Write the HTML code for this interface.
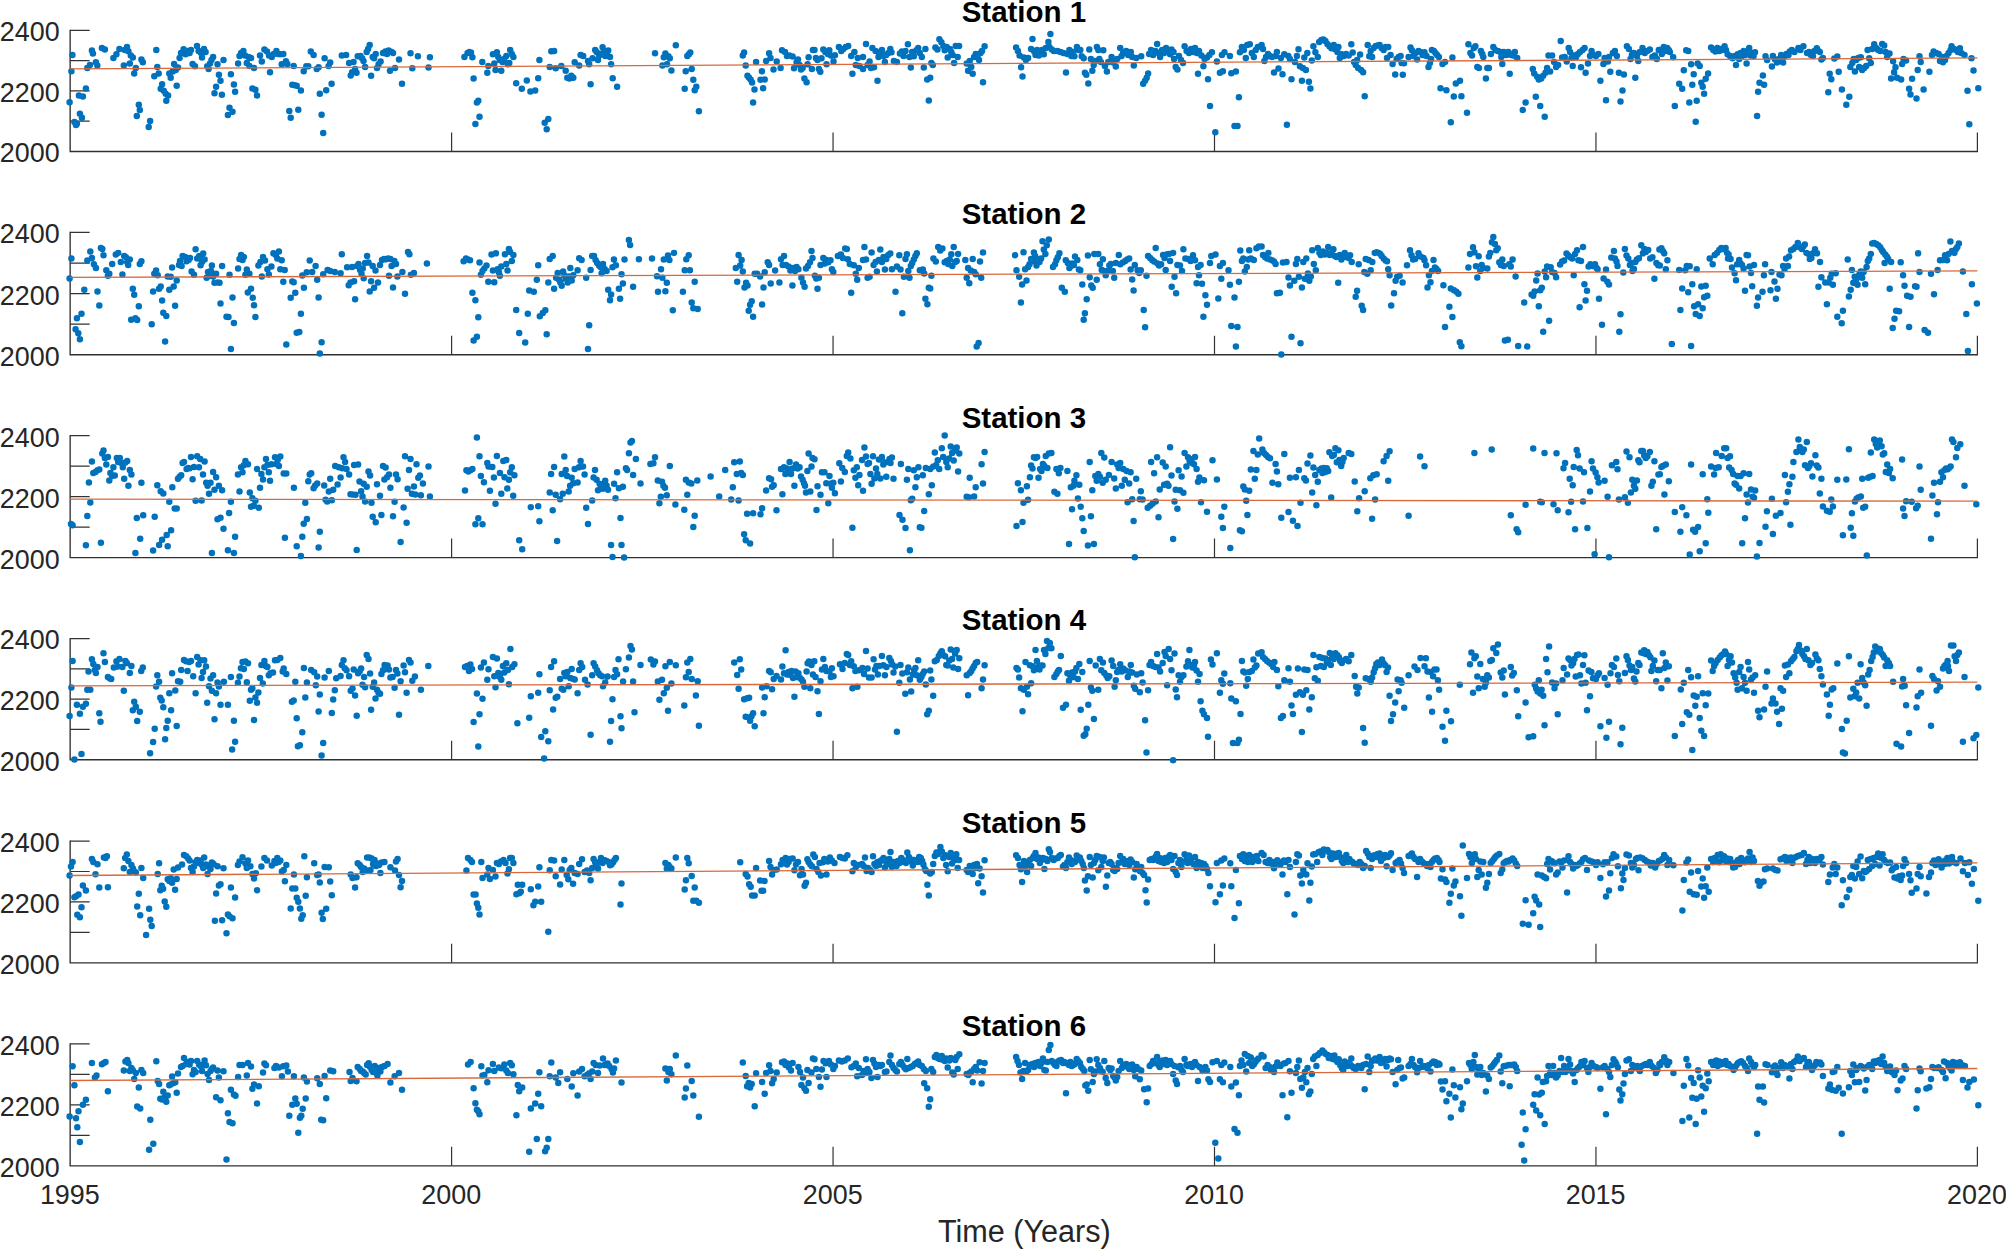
<!DOCTYPE html>
<html><head><meta charset="utf-8"><title>Stations</title>
<style>
html,body{margin:0;padding:0;background:#fff;}
body{width:2006px;height:1249px;overflow:hidden;}
svg{display:block;}
text{font-family:"Liberation Sans",sans-serif;fill:#262626;}
.tk{font-size:26.9px;}
.ti{font-size:29.5px;font-weight:bold;fill:#000;}
.xl{font-size:30.6px;}
.ax{stroke:#303030;stroke-width:1.35;fill:none;}
.tc{stroke:#333;stroke-width:1.2;fill:none;}
.tr{stroke:#D9683A;stroke-width:1.3;fill:none;}
.d{stroke:#0072BD;stroke-width:6.5;stroke-linecap:round;fill:none;}
</style></head><body>
<svg width="2006" height="1249" viewBox="0 0 2006 1249">
<rect width="2006" height="1249" fill="#fff"/>

<g id="p1">
<path class="ax" d="M70.15 29.80V151.46H1978.00"/>
<path class="tc" d="M70.15 30.40h19.5M70.15 60.67h19.5M70.15 90.93h19.5M70.15 121.20h19.5M451.60 151.46v-19M833.05 151.46v-19M1214.50 151.46v-19M1595.95 151.46v-19M1977.40 151.46v-19"/>
<path class="d" d="M69.6 102.2h0M71.4 71.2h0M72.4 54.9h0M74.4 122.1h0M76.0 125.1h0M76.9 123.7h0M78.9 95.4h0M79.9 113.7h0M81.9 117.7h0M82.9 96.4h0M85.9 88.4h0M87.3 67.9h0M89.9 64.9h0M91.9 50.5h0M92.9 53.5h0M95.9 62.3h0M97.3 65.5h0M101.9 47.9h0M104.9 49.5h0M113.4 57.9h0M116.4 54.3h0M119.4 48.9h0M123.8 65.5h0M124.8 49.9h0M127.0 46.9h0M128.4 51.3h0M129.8 63.5h0M130.8 55.5h0M132.8 57.5h0M134.2 73.4h0M135.8 67.9h0M136.8 116.1h0M138.8 104.7h0M139.8 110.1h0M141.4 59.5h0M142.8 62.3h0M148.7 127.1h0M150.1 121.1h0M154.3 76.2h0M156.3 49.9h0M157.3 66.9h0M158.7 73.4h0M160.7 88.8h0M162.1 84.2h0M163.7 90.8h0M165.7 93.8h0M166.3 100.8h0M168.1 95.4h0M169.3 73.4h0M170.7 77.8h0M172.7 71.4h0M174.1 63.9h0M175.7 69.9h0M176.7 85.8h0M178.0 67.5h0M179.6 57.9h0M181.0 52.9h0M183.6 49.3h0M185.6 54.3h0M187.6 50.9h0M189.6 52.9h0M191.0 49.9h0M192.6 63.9h0M195.0 66.3h0M197.0 45.9h0M198.6 50.9h0M201.0 52.9h0M202.0 57.5h0M204.0 48.9h0M205.6 51.9h0M207.2 66.3h0M208.6 68.9h0M210.0 63.5h0M211.5 59.9h0M213.1 56.9h0M214.5 93.2h0M216.1 86.8h0M217.5 64.3h0M218.9 74.8h0M220.5 80.8h0M221.9 94.8h0M223.5 59.9h0M227.9 115.1h0M229.5 107.7h0M230.9 74.2h0M232.5 111.7h0M233.9 84.4h0M235.1 91.8h0M238.1 63.5h0M239.5 55.9h0M241.1 52.9h0M243.4 50.9h0M245.0 55.5h0M246.8 62.9h0M248.4 56.9h0M249.4 65.9h0M251.0 57.9h0M252.4 88.4h0M254.0 67.9h0M255.4 89.8h0M257.0 95.4h0M260.0 55.5h0M261.8 61.5h0M264.4 49.5h0M267.0 51.5h0M269.0 55.5h0M270.0 72.2h0M271.8 56.9h0M273.8 53.9h0M276.4 50.9h0M278.3 53.9h0M280.3 54.3h0M281.7 64.3h0M283.3 53.9h0M285.9 61.3h0M287.3 63.9h0M289.3 111.1h0M290.7 117.7h0M292.3 84.8h0M293.7 65.9h0M294.9 85.2h0M296.7 85.8h0M298.3 109.7h0M300.9 90.4h0M303.7 71.2h0M306.3 66.3h0M308.3 66.3h0M310.8 51.5h0M313.6 54.9h0M316.8 68.9h0M318.6 67.3h0M319.8 93.8h0M321.6 114.7h0M323.2 133.1h0M324.6 58.3h0M326.2 90.2h0M328.6 65.9h0M330.2 62.5h0M331.6 83.8h0M341.8 55.5h0M346.1 54.9h0M349.1 62.9h0M350.7 75.4h0M352.1 72.2h0M353.5 61.9h0M355.1 68.9h0M356.5 72.8h0M357.7 56.3h0M360.5 55.9h0M362.1 58.3h0M363.5 60.9h0M365.1 66.9h0M366.7 51.9h0M368.1 48.9h0M369.7 44.9h0M371.1 75.8h0M372.7 56.9h0M374.1 58.3h0M375.7 53.9h0M377.0 67.9h0M378.6 64.3h0M380.6 61.5h0M383.0 52.9h0M385.4 51.5h0M387.0 53.9h0M388.6 50.5h0M390.0 70.8h0M391.6 51.9h0M393.0 52.9h0M395.0 67.9h0M399.0 59.5h0M402.0 83.8h0M410.5 53.3h0M412.3 68.3h0M417.9 56.3h0M428.5 67.5h0M429.9 57.3h0M464.4 56.9h0M467.6 52.9h0M469.4 51.9h0M471.0 52.5h0M472.4 57.3h0M473.6 78.4h0M475.4 124.1h0M476.9 102.4h0M478.3 100.8h0M479.5 116.7h0M482.3 61.9h0M487.3 72.8h0M488.3 65.9h0M492.9 54.3h0M494.3 63.5h0M495.5 69.9h0M496.9 52.3h0M498.3 56.9h0M499.9 59.9h0M501.3 70.8h0M502.5 61.9h0M504.3 58.9h0M506.3 55.9h0M507.9 64.3h0M509.3 62.9h0M510.2 49.9h0M511.8 53.9h0M513.4 56.9h0M516.2 83.2h0M521.8 88.8h0M526.8 80.4h0M530.4 91.4h0M535.2 90.4h0M538.2 78.2h0M539.4 59.9h0M544.7 122.7h0M546.7 129.3h0M548.3 119.1h0M549.7 66.9h0M551.3 51.3h0M554.1 50.9h0M555.7 68.3h0M561.3 65.9h0M565.7 70.8h0M567.3 77.8h0M569.3 78.4h0M571.3 75.8h0M573.3 77.8h0M574.7 62.3h0M579.2 65.5h0M580.6 54.9h0M583.2 55.9h0M588.0 60.9h0M589.2 64.3h0M590.6 84.2h0M592.6 58.3h0M595.2 49.9h0M596.6 51.9h0M598.0 59.9h0M599.2 55.5h0M600.6 53.9h0M602.6 47.3h0M604.0 50.9h0M605.2 55.9h0M606.6 52.9h0M608.2 50.5h0M610.0 56.9h0M611.1 64.3h0M612.7 78.2h0M617.1 86.8h0M655.0 53.3h0M662.4 65.5h0M663.8 57.3h0M665.4 53.5h0M667.0 64.3h0M668.4 56.3h0M669.8 58.3h0M671.4 70.4h0M675.8 45.3h0M684.7 88.8h0M685.7 71.2h0M687.3 55.9h0M688.9 54.3h0M690.3 52.5h0M691.7 68.9h0M693.3 79.8h0M694.7 90.2h0M696.3 86.8h0M698.9 111.3h0M742.8 55.5h0M744.1 52.5h0M745.7 65.5h0M747.5 75.8h0M749.1 77.8h0M750.7 79.8h0M752.1 82.4h0M753.1 102.4h0M754.5 89.4h0M756.1 61.9h0M760.5 79.8h0M761.9 71.2h0M763.1 88.2h0M764.7 79.4h0M766.1 60.9h0M769.1 53.3h0M770.5 57.9h0M773.5 69.5h0M776.7 61.5h0M780.6 67.9h0M782.0 50.3h0M785.0 51.9h0M787.0 55.9h0M789.4 55.5h0M792.6 56.5h0M794.0 68.3h0M796.6 62.3h0M798.0 59.5h0M799.6 64.9h0M801.0 69.5h0M802.6 67.9h0M804.4 78.4h0M806.6 82.2h0M807.6 64.3h0M808.6 57.3h0M811.9 68.9h0M812.9 49.9h0M814.5 49.9h0M815.9 57.9h0M817.5 59.9h0M818.9 68.9h0M820.3 71.8h0M821.5 58.3h0M823.3 49.5h0M825.3 51.9h0M826.5 64.3h0M827.9 53.9h0M829.3 50.3h0M830.9 55.5h0M833.5 61.5h0M834.9 55.3h0M838.9 46.9h0M841.3 50.9h0M843.3 48.9h0M845.8 46.9h0M848.2 45.9h0M851.2 55.9h0M852.4 73.8h0M854.4 51.9h0M855.8 64.9h0M857.8 57.9h0M859.4 65.9h0M863.0 56.9h0M863.0 68.9h0M866.0 43.9h0M867.6 64.9h0M869.6 61.5h0M871.0 67.9h0M872.4 47.9h0M874.0 67.3h0M875.6 50.9h0M877.5 80.8h0M878.5 56.9h0M879.9 53.9h0M881.9 49.9h0M883.5 55.9h0M884.9 61.9h0M886.3 54.9h0M888.3 52.9h0M890.3 48.9h0M891.5 52.3h0M893.9 60.9h0M896.9 61.9h0M899.9 53.5h0M901.9 51.5h0M903.5 55.9h0M905.5 50.9h0M907.9 44.3h0M909.5 56.9h0M910.8 67.5h0M912.2 51.9h0M913.8 56.3h0M916.4 50.3h0M918.2 47.9h0M919.8 52.9h0M921.8 56.9h0M923.8 67.5h0M925.4 48.9h0M927.2 79.4h0M928.8 100.4h0M930.2 77.8h0M931.4 62.9h0M932.8 64.9h0M935.4 47.5h0M937.4 49.5h0M939.4 39.3h0M941.4 42.3h0M943.3 45.9h0M944.7 50.3h0M946.7 46.9h0M947.7 57.5h0M949.7 48.9h0M951.3 51.9h0M952.7 54.9h0M954.1 62.9h0M955.7 45.9h0M957.7 56.9h0M959.1 45.9h0M966.7 63.5h0M968.1 70.8h0M969.7 60.9h0M971.3 66.9h0M972.7 73.8h0M974.1 56.9h0M975.7 53.9h0M977.6 55.9h0M979.0 59.9h0M980.6 52.9h0M982.0 50.9h0M983.0 82.2h0M984.6 46.3h0M1016.1 47.5h0M1017.9 50.9h0M1019.5 55.5h0M1021.1 67.3h0M1022.5 76.4h0M1023.9 57.5h0M1025.9 59.9h0M1028.1 57.9h0M1031.1 48.9h0M1032.5 38.9h0M1033.9 50.9h0M1035.5 54.9h0M1037.1 49.9h0M1038.9 55.5h0M1040.5 51.9h0M1041.9 49.9h0M1043.8 54.3h0M1045.8 47.9h0M1048.4 41.9h0M1049.4 46.9h0M1050.4 34.0h0M1051.8 49.5h0M1053.8 50.9h0M1057.4 50.9h0M1060.4 51.9h0M1063.4 52.9h0M1066.0 72.4h0M1067.4 53.9h0M1069.4 49.9h0M1071.4 55.9h0M1073.0 51.9h0M1074.4 56.3h0M1076.9 46.9h0M1078.3 49.9h0M1080.3 49.9h0M1081.7 56.3h0M1083.7 58.3h0M1084.9 72.8h0M1086.3 74.8h0M1088.3 83.4h0M1089.3 49.5h0M1090.9 58.9h0M1092.3 70.8h0M1093.7 64.9h0M1095.3 60.9h0M1096.9 46.9h0M1098.3 49.9h0M1099.3 58.9h0M1100.9 61.9h0M1103.3 50.3h0M1104.9 65.9h0M1106.9 71.4h0M1108.3 61.9h0M1111.6 56.9h0M1113.2 62.5h0M1115.8 66.5h0M1117.2 58.9h0M1120.2 47.9h0M1121.6 55.9h0M1123.2 52.9h0M1126.2 50.9h0M1128.2 54.9h0M1130.8 51.9h0M1132.2 56.9h0M1133.8 65.5h0M1136.2 57.9h0M1141.2 56.3h0M1143.2 83.8h0M1145.1 80.8h0M1146.7 77.8h0M1148.1 73.4h0M1149.1 53.9h0M1151.1 49.9h0M1153.1 54.9h0M1155.5 50.9h0M1157.1 43.9h0M1158.5 52.9h0M1160.1 56.9h0M1162.1 49.9h0M1164.1 52.9h0M1166.1 47.9h0M1168.1 50.9h0M1170.1 54.3h0M1171.5 49.5h0M1173.5 51.9h0M1174.1 58.9h0M1175.7 66.9h0M1177.4 69.5h0M1179.0 55.9h0M1181.0 59.9h0M1183.0 62.9h0M1184.6 46.3h0M1186.6 50.9h0M1189.0 52.9h0M1191.0 48.9h0M1193.4 51.9h0M1195.0 47.9h0M1197.0 52.9h0M1198.0 73.8h0M1199.0 50.9h0M1201.4 55.5h0M1203.4 66.3h0M1204.6 58.9h0M1207.0 57.5h0M1208.0 79.2h0M1209.4 54.9h0M1210.0 106.1h0M1211.9 52.3h0M1215.3 132.3h0M1216.9 61.5h0M1219.9 72.8h0M1221.9 54.9h0M1222.9 71.2h0M1224.5 52.3h0M1229.9 55.9h0M1231.3 73.2h0M1234.5 126.1h0M1235.9 71.4h0M1237.5 126.1h0M1238.9 97.2h0M1239.9 52.3h0M1241.9 46.9h0M1243.8 49.9h0M1245.8 57.9h0M1247.2 44.9h0M1249.8 44.3h0M1251.8 52.9h0M1253.8 56.9h0M1255.8 49.9h0M1257.8 46.9h0M1261.6 44.9h0M1263.0 48.9h0M1264.4 60.9h0M1266.0 56.9h0M1268.0 53.9h0M1270.0 55.9h0M1272.0 56.9h0M1274.0 72.4h0M1275.6 55.9h0M1276.9 51.9h0M1278.5 68.5h0M1280.9 57.9h0M1282.5 74.2h0M1284.3 54.3h0M1286.9 124.7h0M1288.3 55.9h0M1289.9 58.9h0M1291.5 79.2h0M1294.9 61.9h0M1296.9 55.9h0M1298.5 49.3h0M1299.9 66.3h0M1301.9 80.8h0M1302.9 67.9h0M1304.3 57.5h0M1305.9 69.9h0M1307.3 52.9h0M1308.9 81.8h0M1310.4 88.4h0M1311.8 60.5h0M1313.4 46.3h0M1315.4 52.3h0M1317.8 56.9h0M1319.2 41.9h0M1321.4 39.9h0M1323.4 39.5h0M1325.4 40.9h0M1327.4 43.9h0M1329.4 46.3h0M1331.4 48.3h0M1333.8 44.9h0M1335.4 49.5h0M1337.4 51.9h0M1338.4 46.9h0M1339.8 57.9h0M1341.8 54.3h0M1343.7 55.9h0M1346.1 53.9h0M1348.7 55.5h0M1351.3 44.3h0M1352.7 52.5h0M1354.1 61.9h0M1355.7 64.9h0M1357.1 59.9h0M1358.1 67.9h0M1360.1 54.5h0M1361.1 69.9h0M1363.1 72.2h0M1364.7 96.2h0M1367.7 44.9h0M1369.3 56.3h0M1370.7 50.9h0M1372.1 56.9h0M1373.7 47.9h0M1375.7 45.9h0M1377.6 45.5h0M1379.6 44.9h0M1381.6 47.9h0M1383.6 49.9h0M1385.6 46.9h0M1387.0 57.9h0M1388.2 46.9h0M1390.6 54.9h0M1392.6 63.9h0M1395.2 74.4h0M1396.6 58.9h0M1398.6 56.9h0M1400.6 55.9h0M1401.6 62.9h0M1402.8 74.8h0M1404.0 63.3h0M1408.6 56.9h0M1410.5 47.5h0M1411.9 50.3h0M1413.5 55.9h0M1415.5 52.9h0M1417.1 59.5h0M1418.5 50.9h0M1420.5 51.9h0M1422.5 54.9h0M1424.5 52.3h0M1426.5 55.9h0M1428.5 66.9h0M1429.9 62.9h0M1431.1 58.9h0M1431.9 49.9h0M1433.9 50.9h0M1435.5 52.9h0M1437.1 54.9h0M1438.9 56.9h0M1440.5 88.2h0M1442.5 63.9h0M1445.0 61.9h0M1446.4 90.2h0M1450.8 122.3h0M1452.4 57.5h0M1453.8 96.4h0M1455.8 83.4h0M1460.0 80.8h0M1461.4 96.2h0M1467.0 112.7h0M1468.4 44.3h0M1470.4 52.9h0M1472.0 55.5h0M1473.8 47.9h0M1475.4 46.3h0M1477.3 66.9h0M1478.9 67.9h0M1480.9 50.9h0M1482.3 53.9h0M1483.3 56.9h0M1485.9 78.4h0M1487.3 67.9h0M1488.9 67.9h0M1490.9 53.9h0M1493.3 46.9h0M1495.3 49.9h0M1497.7 50.9h0M1500.3 51.9h0M1501.3 56.9h0M1502.3 63.9h0M1503.7 51.9h0M1506.3 54.9h0M1508.3 51.9h0M1509.7 73.8h0M1511.2 54.9h0M1513.2 55.5h0M1514.8 51.9h0M1517.2 57.9h0M1522.8 110.1h0M1525.6 102.4h0M1532.8 68.9h0M1534.2 73.4h0M1535.8 96.8h0M1537.2 76.8h0M1538.8 79.4h0M1540.2 106.1h0M1541.2 78.4h0M1543.2 75.8h0M1544.7 116.7h0M1545.5 72.8h0M1547.1 67.9h0M1548.5 55.5h0M1550.1 71.4h0M1552.1 55.5h0M1554.1 61.9h0M1556.1 66.9h0M1558.1 64.9h0M1560.7 40.9h0M1562.1 57.5h0M1564.7 56.9h0M1566.7 61.5h0M1568.7 47.9h0M1570.1 51.9h0M1571.5 57.9h0M1572.7 65.9h0M1574.1 55.5h0M1576.1 56.9h0M1578.0 53.9h0M1580.0 51.9h0M1581.0 67.3h0M1582.6 49.9h0M1584.6 47.9h0M1585.6 72.8h0M1588.0 63.5h0M1590.0 55.9h0M1591.6 50.9h0M1593.6 54.9h0M1596.0 55.9h0M1598.4 53.9h0M1600.4 80.8h0M1603.4 63.9h0M1604.6 57.9h0M1606.0 100.2h0M1608.0 61.5h0M1609.0 56.9h0M1610.3 71.8h0M1612.9 52.9h0M1614.9 50.9h0M1616.9 55.9h0M1618.9 72.8h0M1620.5 101.4h0M1622.5 90.4h0M1623.9 74.4h0M1626.9 46.3h0M1628.9 48.9h0M1630.5 58.9h0M1631.9 54.9h0M1633.9 52.9h0M1635.3 77.8h0M1636.9 55.9h0M1638.3 60.9h0M1639.9 51.9h0M1642.5 47.9h0M1644.8 52.9h0M1647.2 50.9h0M1649.8 49.5h0M1652.4 56.9h0M1654.8 55.5h0M1656.8 58.9h0M1658.8 49.9h0M1659.8 49.9h0M1661.8 53.9h0M1663.8 46.9h0M1665.4 50.9h0M1667.2 47.9h0M1668.8 49.9h0M1669.8 51.9h0M1673.2 57.3h0M1674.8 106.1h0M1679.2 83.8h0M1682.2 88.8h0M1683.8 70.2h0M1686.2 50.3h0M1688.2 50.9h0M1689.3 102.4h0M1691.1 64.3h0M1692.3 84.8h0M1693.7 74.2h0M1695.7 121.7h0M1696.7 100.8h0M1697.7 63.5h0M1699.7 65.9h0M1701.3 82.8h0M1702.7 86.8h0M1704.1 93.8h0M1705.7 78.8h0M1708.1 73.4h0M1711.1 47.5h0M1713.3 49.9h0M1715.3 51.5h0M1717.3 47.9h0M1719.3 50.9h0M1720.7 48.9h0M1722.7 49.9h0M1724.6 46.3h0M1726.0 49.9h0M1727.6 54.3h0M1730.0 55.9h0M1732.6 58.3h0M1734.6 55.9h0M1736.0 64.9h0M1737.6 54.3h0M1739.2 58.9h0M1740.6 52.9h0M1742.0 55.9h0M1743.6 50.9h0M1745.2 54.9h0M1746.6 63.5h0M1748.0 51.9h0M1749.2 47.9h0M1750.6 55.5h0M1752.0 52.9h0M1753.6 55.9h0M1755.0 52.3h0M1757.1 116.1h0M1758.1 91.8h0M1759.5 82.8h0M1762.9 75.4h0M1764.1 84.8h0M1765.5 56.3h0M1767.1 59.9h0M1771.9 66.5h0M1772.9 55.9h0M1775.1 59.5h0M1777.1 62.5h0M1779.1 58.9h0M1781.1 54.9h0M1783.1 62.5h0M1784.5 56.5h0M1786.5 53.9h0M1788.5 54.9h0M1789.8 51.5h0M1791.8 49.9h0M1794.4 51.9h0M1798.4 47.9h0M1800.4 49.9h0M1803.4 46.3h0M1807.0 52.9h0M1809.0 51.9h0M1811.0 54.9h0M1813.0 55.9h0M1814.4 50.9h0M1816.8 48.3h0M1818.4 50.9h0M1819.8 51.9h0M1821.4 59.5h0M1822.9 57.9h0M1828.3 92.2h0M1829.7 73.8h0M1831.3 79.2h0M1834.3 58.5h0M1837.3 56.5h0M1838.7 71.8h0M1841.9 89.4h0M1846.3 104.7h0M1849.3 96.8h0M1850.3 66.9h0M1852.3 62.9h0M1853.7 58.9h0M1854.9 71.4h0M1856.2 59.9h0M1858.2 57.9h0M1859.2 66.9h0M1860.8 57.3h0M1862.2 69.9h0M1864.2 67.9h0M1866.2 65.9h0M1867.6 49.9h0M1869.2 58.3h0M1870.8 62.9h0M1872.2 48.9h0M1874.2 44.3h0M1876.2 47.9h0M1878.2 49.9h0M1880.2 50.9h0M1882.2 43.9h0M1884.2 45.5h0M1885.6 51.9h0M1887.2 56.9h0M1889.5 53.5h0M1891.1 78.4h0M1893.1 61.3h0M1894.1 72.2h0M1895.5 67.3h0M1897.1 77.8h0M1901.1 79.4h0M1902.1 63.9h0M1903.5 58.9h0M1906.1 60.5h0M1909.1 88.8h0M1910.5 94.4h0M1912.1 78.8h0M1916.5 98.4h0M1917.7 69.9h0M1919.5 56.3h0M1920.7 61.9h0M1923.6 89.4h0M1929.4 71.8h0M1932.0 54.9h0M1933.6 51.5h0M1936.0 52.9h0M1938.6 53.9h0M1940.0 60.9h0M1942.0 56.9h0M1943.0 62.3h0M1945.0 59.9h0M1946.6 55.9h0M1948.6 52.9h0M1950.6 49.9h0M1951.6 46.3h0M1954.0 48.9h0M1956.0 49.9h0M1957.9 51.9h0M1959.9 48.3h0M1961.3 52.9h0M1964.5 54.9h0M1967.5 90.8h0M1969.3 124.3h0M1971.5 58.3h0M1973.5 70.4h0M1978.3 88.2h0"/>
<path class="tr" d="M70.2 68.85L1977.4 57.90"/>
<text class="tk" transform="translate(59.6 162.4) scale(1 1.06)" text-anchor="end">2000</text>
<text class="tk" transform="translate(59.6 101.8) scale(1 1.06)" text-anchor="end">2200</text>
<text class="tk" transform="translate(59.6 41.3) scale(1 1.06)" text-anchor="end">2400</text>
<text class="ti" transform="translate(1023.9 22.3) scale(1 1.03)" text-anchor="middle">Station 1</text>
</g>
<g id="p2">
<path class="ax" d="M70.15 231.87V354.76H1978.00"/>
<path class="tc" d="M70.15 232.47h19.5M70.15 263.04h19.5M70.15 293.62h19.5M70.15 324.19h19.5M451.60 354.76v-19M833.05 354.76v-19M1214.50 354.76v-19M1595.95 354.76v-19M1977.40 354.76v-19"/>
<path class="d" d="M69.6 278.4h0M71.4 258.5h0M75.6 329.3h0M76.9 318.3h0M78.3 333.3h0M79.9 339.3h0M81.5 313.7h0M84.3 289.8h0M87.3 260.5h0M90.3 251.5h0M91.9 257.9h0M93.9 264.3h0M95.9 267.9h0M97.5 291.4h0M99.3 305.4h0M100.9 247.9h0M102.3 248.9h0M103.5 255.3h0M106.3 270.3h0M107.9 275.8h0M109.3 273.8h0M112.2 263.9h0M115.8 254.5h0M118.2 252.9h0M120.8 261.9h0M122.4 274.4h0M124.2 255.9h0M125.8 256.9h0M127.2 261.9h0M128.2 264.9h0M129.8 259.5h0M131.2 319.7h0M132.8 288.8h0M134.2 294.8h0M135.4 318.3h0M137.2 320.1h0M138.8 306.2h0M139.8 263.9h0M141.4 261.3h0M151.7 324.3h0M153.1 291.4h0M154.3 273.8h0M156.1 270.5h0M157.7 275.2h0M159.1 288.8h0M160.7 286.4h0M162.1 300.4h0M163.3 312.7h0M165.1 341.6h0M166.3 316.1h0M167.7 276.4h0M169.3 289.8h0M170.7 276.8h0M172.1 267.5h0M173.7 286.4h0M175.1 305.8h0M176.7 280.4h0M179.0 264.9h0M180.0 260.9h0M181.6 265.9h0M182.6 255.9h0M185.2 256.9h0M186.6 261.3h0M188.6 259.9h0M190.0 257.9h0M191.6 271.5h0M194.0 274.8h0M195.6 249.3h0M197.2 258.5h0M199.2 255.9h0M200.6 265.3h0M202.0 261.9h0M203.2 253.5h0M204.6 259.5h0M206.6 277.8h0M208.0 271.9h0M209.6 275.8h0M210.9 270.9h0M211.9 265.5h0M213.1 276.4h0M214.5 282.8h0M216.1 273.8h0M217.5 282.4h0M219.5 282.8h0M220.5 303.4h0M222.1 265.9h0M226.5 316.7h0M228.5 317.1h0M229.5 274.8h0M230.9 349.0h0M232.5 297.4h0M233.9 323.1h0M238.1 268.5h0M239.5 258.9h0M241.1 254.9h0M242.5 259.9h0M243.8 256.9h0M245.4 274.8h0M246.8 269.5h0M247.8 292.4h0M249.4 273.8h0M251.0 288.8h0M252.8 297.8h0M254.0 305.2h0M255.4 317.1h0M258.4 265.5h0M260.4 261.9h0M261.8 276.4h0M263.0 256.9h0M265.0 260.5h0M267.4 269.3h0M268.8 274.4h0M271.4 266.5h0M273.4 253.3h0M275.8 254.9h0M277.3 258.5h0M278.9 251.5h0M281.7 260.3h0M280.3 269.3h0M283.3 281.8h0M284.7 269.9h0M286.3 344.6h0M290.7 297.8h0M292.3 281.4h0M293.7 282.2h0M295.3 292.8h0M296.7 332.7h0M299.3 332.1h0M300.9 313.7h0M302.3 275.4h0M303.9 287.8h0M306.7 272.3h0M309.7 260.5h0M312.2 271.9h0M315.6 265.9h0M317.2 279.8h0M318.6 297.4h0M319.8 353.6h0M321.6 342.2h0M323.2 274.2h0M327.6 269.9h0M330.2 270.9h0M334.8 271.9h0M340.6 273.2h0M341.8 254.3h0M347.1 267.3h0M348.7 285.2h0M350.5 282.4h0M352.1 266.9h0M354.1 281.2h0M355.1 299.2h0M357.1 265.9h0M358.5 263.9h0M360.1 269.9h0M361.5 273.8h0M362.7 268.5h0M363.7 278.2h0M365.1 262.9h0M367.1 255.9h0M368.5 262.5h0M369.7 291.4h0M371.1 281.2h0M372.7 265.9h0M374.1 287.8h0M375.5 270.5h0M378.0 282.4h0M380.0 264.9h0M382.0 259.9h0M384.0 258.9h0M386.0 259.3h0M388.0 258.5h0M389.0 275.8h0M390.4 258.9h0M391.6 265.9h0M393.0 287.4h0M394.4 260.9h0M396.0 263.9h0M397.4 276.4h0M402.4 271.9h0M405.0 293.8h0M408.0 251.9h0M409.4 254.3h0M410.9 274.8h0M413.9 272.9h0M426.9 263.5h0M463.6 261.3h0M466.0 258.5h0M468.0 259.5h0M470.0 260.3h0M472.4 292.8h0M473.6 340.6h0M475.4 300.2h0M476.9 336.7h0M478.3 317.3h0M479.5 262.5h0M480.9 274.8h0M482.5 270.9h0M484.3 268.5h0M486.5 265.5h0M488.3 281.8h0M491.5 254.5h0M492.9 270.5h0M494.3 282.2h0M495.9 253.3h0M497.5 269.3h0M498.9 272.3h0M499.9 275.8h0M501.3 266.5h0M504.9 254.3h0M506.3 263.9h0M507.5 270.5h0M508.9 248.9h0M510.2 251.9h0M511.8 260.9h0M513.4 254.9h0M516.2 310.1h0M519.2 333.1h0M525.2 342.6h0M527.8 313.7h0M529.2 290.4h0M533.8 291.8h0M536.8 279.8h0M538.2 265.3h0M539.8 316.3h0M542.8 313.1h0M545.3 310.3h0M546.7 334.3h0M548.3 282.4h0M549.7 258.9h0M552.7 255.9h0M554.1 288.8h0M556.1 277.8h0M557.7 272.9h0M559.1 279.8h0M560.3 282.2h0M561.7 285.8h0M563.1 271.5h0M564.3 275.2h0M565.7 278.8h0M567.7 282.4h0M569.1 276.4h0M570.3 267.9h0M571.7 280.4h0M573.3 275.2h0M577.6 270.3h0M579.2 258.3h0M581.6 259.9h0M586.2 277.8h0M588.0 349.0h0M589.2 325.3h0M590.6 269.9h0M592.2 255.9h0M594.0 255.9h0M595.6 259.9h0M597.2 262.9h0M599.0 265.5h0M600.6 266.9h0M601.6 273.2h0M603.0 263.9h0M604.6 268.9h0M606.6 270.9h0M608.2 289.8h0M610.0 300.2h0M611.1 294.4h0M612.5 267.3h0M613.9 259.5h0M615.9 265.3h0M618.9 288.8h0M620.1 298.8h0M621.5 274.2h0M622.9 283.4h0M624.5 259.5h0M628.9 239.9h0M630.1 244.9h0M633.1 286.8h0M638.9 259.3h0M652.0 258.5h0M657.0 276.2h0M658.0 291.8h0M661.0 269.3h0M662.4 277.8h0M663.8 259.5h0M665.4 291.2h0M666.8 282.8h0M668.0 255.5h0M669.4 259.9h0M672.8 310.3h0M674.0 252.9h0M682.9 291.8h0M684.7 270.3h0M686.3 259.3h0M688.7 255.3h0M689.9 270.3h0M691.7 302.4h0M693.3 308.3h0M694.7 281.8h0M697.7 309.1h0M735.8 267.9h0M737.2 281.8h0M738.6 254.9h0M740.2 265.5h0M741.6 259.9h0M742.8 271.5h0M744.5 287.4h0M746.1 282.8h0M747.5 285.4h0M748.7 310.7h0M750.1 304.8h0M751.7 301.2h0M753.1 316.7h0M754.7 273.8h0M757.1 273.8h0M760.1 276.4h0M762.1 304.4h0M763.5 287.4h0M764.7 272.3h0M767.7 262.3h0M769.1 264.9h0M770.7 283.4h0M775.1 270.5h0M779.4 282.4h0M781.0 259.3h0M782.6 264.9h0M784.0 255.9h0M786.0 264.9h0M788.6 266.5h0M790.4 270.5h0M792.4 285.4h0M793.4 267.9h0M795.0 270.9h0M796.6 266.9h0M798.4 269.3h0M801.4 277.8h0M803.0 282.4h0M804.6 286.8h0M806.0 268.5h0M808.0 265.9h0M810.0 262.3h0M811.5 250.9h0M812.5 257.9h0M814.9 275.8h0M816.3 278.4h0M817.5 288.8h0M818.9 277.8h0M820.5 264.9h0M823.3 257.9h0M824.9 263.5h0M826.5 259.9h0M828.3 262.3h0M830.5 260.3h0M831.9 269.3h0M833.3 271.9h0M837.9 255.9h0M840.9 254.5h0M842.9 257.9h0M845.2 248.5h0M846.8 248.9h0M847.8 259.3h0M849.8 263.9h0M851.2 292.8h0M853.8 265.3h0M855.8 273.8h0M857.2 279.8h0M858.8 267.9h0M863.0 259.9h0M864.4 246.9h0M866.0 259.5h0M867.6 277.8h0M869.6 276.8h0M871.6 252.5h0M873.6 264.9h0M875.6 261.9h0M876.9 271.5h0M878.9 259.9h0M880.3 249.5h0M881.9 261.9h0M883.5 256.9h0M884.9 269.5h0M886.3 258.9h0M888.3 254.9h0M890.3 253.5h0M891.9 269.3h0M895.5 291.8h0M896.9 266.5h0M899.3 255.3h0M900.5 269.5h0M902.3 313.3h0M903.9 276.8h0M905.5 258.9h0M906.9 254.3h0M908.3 270.9h0M909.5 277.8h0M910.8 265.9h0M912.2 262.9h0M913.8 259.5h0M915.4 255.9h0M916.8 253.3h0M919.8 270.3h0M922.8 269.5h0M924.2 273.4h0M925.4 298.8h0M927.4 304.2h0M928.8 287.8h0M930.2 288.4h0M931.4 275.8h0M933.4 258.5h0M935.8 261.5h0M938.2 246.9h0M940.2 250.5h0M942.4 248.5h0M944.7 262.3h0M946.7 260.9h0M948.3 263.9h0M949.7 259.5h0M951.3 254.3h0M952.3 265.9h0M953.7 246.9h0M955.3 261.9h0M956.7 260.9h0M958.1 253.9h0M965.3 259.9h0M966.7 277.8h0M968.1 267.9h0M969.3 283.2h0M970.7 270.5h0M972.7 258.9h0M974.1 271.9h0M975.7 274.2h0M976.7 346.6h0M978.6 343.0h0M980.0 261.5h0M981.2 277.8h0M983.0 252.5h0M1015.1 255.3h0M1016.5 270.3h0M1019.1 276.8h0M1020.9 302.4h0M1022.1 284.4h0M1023.5 252.3h0M1025.1 269.3h0M1026.5 280.4h0M1028.1 266.9h0M1029.5 264.3h0M1031.1 258.9h0M1032.5 260.9h0M1033.9 252.5h0M1035.1 255.9h0M1036.5 265.5h0M1037.9 259.9h0M1039.5 261.9h0M1041.1 258.5h0M1042.5 241.3h0M1043.8 249.5h0M1045.4 253.9h0M1046.8 245.3h0M1048.8 239.4h0M1053.0 266.9h0M1055.0 264.3h0M1056.4 260.3h0M1057.8 257.3h0M1059.4 253.3h0M1061.8 287.8h0M1064.8 291.8h0M1065.8 260.3h0M1067.8 262.9h0M1069.4 267.9h0M1071.0 265.9h0M1072.4 263.5h0M1073.8 264.9h0M1075.0 256.5h0M1077.3 259.9h0M1078.9 269.5h0M1080.3 270.3h0M1082.3 284.4h0M1083.7 319.7h0M1084.9 313.3h0M1086.7 299.2h0M1087.9 255.5h0M1089.7 277.2h0M1091.3 285.4h0M1092.7 287.8h0M1094.3 253.9h0M1096.7 279.8h0M1098.3 253.9h0M1099.9 264.3h0M1101.7 269.9h0M1102.9 259.3h0M1104.3 270.9h0M1105.7 275.2h0M1107.3 270.9h0M1109.3 265.5h0M1110.8 263.9h0M1112.8 270.9h0M1114.2 277.8h0M1115.8 262.9h0M1118.8 254.9h0M1120.2 264.3h0M1122.8 262.5h0M1125.2 260.9h0M1127.2 259.5h0M1129.2 258.5h0M1130.6 269.5h0M1132.2 279.4h0M1133.6 290.4h0M1134.8 264.9h0M1137.6 270.3h0M1139.2 272.9h0M1140.8 270.3h0M1143.7 310.1h0M1145.1 327.3h0M1146.5 275.8h0M1148.1 255.9h0M1150.1 257.9h0M1152.1 259.9h0M1154.1 261.5h0M1155.7 247.9h0M1157.5 263.5h0M1159.1 265.5h0M1161.1 264.3h0M1163.1 254.9h0M1164.5 257.9h0M1165.7 269.9h0M1167.1 254.3h0M1169.1 253.9h0M1170.1 260.9h0M1171.7 286.8h0M1173.1 252.9h0M1174.5 276.8h0M1176.1 293.2h0M1177.4 264.9h0M1180.0 265.5h0M1182.0 270.9h0M1183.4 249.3h0M1185.4 258.5h0M1188.0 258.9h0M1190.6 260.9h0M1193.0 255.3h0M1195.0 260.3h0M1196.6 283.2h0M1198.0 266.9h0M1199.0 275.2h0M1200.6 264.9h0M1202.0 283.8h0M1203.4 316.7h0M1205.4 295.2h0M1207.0 304.8h0M1210.0 262.9h0M1211.3 255.9h0M1215.5 254.5h0M1218.3 298.4h0M1219.9 265.9h0M1221.3 278.8h0M1222.9 262.9h0M1228.5 270.3h0M1229.9 284.8h0M1231.3 326.1h0M1234.5 297.4h0M1235.9 346.6h0M1237.5 327.1h0M1238.9 281.8h0M1240.3 250.5h0M1241.9 260.9h0M1243.3 258.5h0M1244.8 271.5h0M1246.8 266.9h0M1248.2 259.5h0M1249.2 250.3h0M1250.8 258.5h0M1253.8 259.9h0M1256.4 248.3h0M1258.8 246.5h0M1261.6 246.5h0M1263.0 254.9h0M1265.0 256.9h0M1267.0 258.5h0M1268.4 252.9h0M1270.0 259.5h0M1272.0 260.3h0M1274.0 261.5h0M1275.6 263.9h0M1276.9 293.2h0M1279.9 292.8h0M1281.3 354.6h0M1282.9 262.5h0M1286.5 261.9h0M1288.5 277.4h0M1289.9 285.4h0M1291.5 336.7h0M1294.3 280.8h0M1295.9 263.9h0M1297.3 258.9h0M1298.9 276.8h0M1300.5 343.2h0M1301.9 287.4h0M1303.3 261.9h0M1304.9 278.8h0M1306.3 258.5h0M1307.9 273.4h0M1309.3 280.8h0M1310.8 276.4h0M1312.2 250.3h0M1313.8 263.9h0M1315.8 270.3h0M1317.8 247.9h0M1319.4 252.9h0M1320.8 254.9h0M1322.8 251.5h0M1324.8 254.5h0M1326.4 252.9h0M1328.2 246.9h0M1329.8 254.9h0M1331.4 252.9h0M1333.4 249.3h0M1334.8 255.9h0M1336.4 256.9h0M1338.2 282.8h0M1339.8 254.9h0M1341.4 259.5h0M1342.8 255.9h0M1344.7 252.9h0M1346.7 257.3h0M1348.7 257.9h0M1350.1 255.3h0M1351.7 261.9h0M1355.7 296.8h0M1357.1 290.8h0M1358.7 264.3h0M1361.7 305.8h0M1363.1 310.1h0M1364.3 271.9h0M1365.7 258.9h0M1367.3 273.8h0M1368.7 259.9h0M1370.7 270.3h0M1372.3 261.9h0M1374.7 252.9h0M1376.7 252.3h0M1378.6 252.9h0M1380.2 253.9h0M1381.6 255.9h0M1383.6 258.5h0M1385.6 260.5h0M1387.0 261.3h0M1388.2 269.3h0M1389.6 275.2h0M1391.2 305.4h0M1394.0 293.2h0M1395.6 280.8h0M1397.2 276.8h0M1399.6 275.8h0M1402.6 282.4h0M1407.0 265.3h0M1410.0 250.3h0M1411.5 255.3h0M1413.1 259.5h0M1415.1 258.9h0M1418.5 253.3h0M1420.5 256.5h0M1423.5 257.9h0M1424.5 260.3h0M1426.1 265.3h0M1427.5 287.4h0M1428.9 275.2h0M1430.5 282.2h0M1431.9 270.9h0M1433.5 259.9h0M1434.9 267.5h0M1436.5 268.9h0M1438.1 270.9h0M1443.4 285.2h0M1445.0 327.1h0M1449.4 306.7h0M1450.8 288.4h0M1452.4 317.1h0M1454.0 290.2h0M1456.4 291.8h0M1458.4 293.8h0M1459.8 342.2h0M1461.4 346.2h0M1468.4 267.5h0M1470.0 253.9h0M1473.0 247.3h0M1474.4 252.3h0M1476.0 266.3h0M1477.3 277.4h0M1478.7 256.3h0M1480.3 270.9h0M1481.7 264.9h0M1483.3 267.9h0M1487.3 268.5h0M1488.9 256.5h0M1490.3 252.9h0M1491.9 242.3h0M1493.3 237.0h0M1494.9 243.9h0M1496.3 250.3h0M1497.7 248.3h0M1499.3 262.3h0M1500.9 264.9h0M1502.3 259.5h0M1503.7 265.9h0M1504.9 340.6h0M1507.9 339.7h0M1509.3 264.3h0M1510.8 266.5h0M1512.6 259.5h0M1515.6 276.4h0M1518.2 346.0h0M1524.2 302.4h0M1527.2 346.6h0M1531.6 294.4h0M1533.2 295.8h0M1534.6 291.4h0M1536.2 280.4h0M1537.6 273.4h0M1538.8 306.3h0M1540.2 290.2h0M1541.8 287.8h0M1543.2 331.7h0M1544.7 271.5h0M1546.1 277.2h0M1547.1 266.5h0M1549.1 320.7h0M1550.7 267.3h0M1552.1 271.9h0M1554.5 272.9h0M1556.1 277.2h0M1560.1 264.5h0M1562.1 261.5h0M1564.1 260.5h0M1566.5 253.5h0M1568.1 255.3h0M1570.1 256.9h0M1572.1 258.5h0M1573.7 275.2h0M1575.1 253.9h0M1577.0 250.3h0M1578.4 260.3h0M1579.6 307.3h0M1581.0 260.9h0M1583.0 246.9h0M1584.4 284.2h0M1585.6 300.4h0M1587.0 290.8h0M1588.6 266.5h0M1590.4 264.3h0M1593.0 265.9h0M1595.0 264.3h0M1596.6 267.9h0M1597.6 269.3h0M1599.0 298.8h0M1602.0 324.7h0M1603.6 278.4h0M1606.0 269.5h0M1607.4 281.8h0M1609.0 284.4h0M1611.3 257.5h0M1613.9 250.9h0M1614.9 258.5h0M1616.5 261.5h0M1617.5 265.9h0M1619.3 331.7h0M1620.5 314.3h0M1623.3 272.5h0M1624.9 248.9h0M1626.5 255.5h0M1628.3 258.5h0M1629.9 264.9h0M1631.3 262.9h0M1632.5 270.9h0M1633.9 268.9h0M1635.3 261.9h0M1636.9 259.5h0M1638.9 258.3h0M1641.3 245.3h0M1642.9 253.3h0M1644.4 248.9h0M1645.8 251.9h0M1648.2 249.9h0M1650.2 258.5h0M1652.4 257.3h0M1654.4 278.8h0M1656.4 262.9h0M1658.2 265.3h0M1659.4 249.5h0M1659.8 265.5h0M1661.4 248.3h0M1662.8 250.9h0M1664.2 253.3h0M1665.8 269.3h0M1667.4 260.3h0M1671.8 344.0h0M1679.2 269.9h0M1680.4 310.1h0M1682.2 288.4h0M1685.2 270.3h0M1686.8 265.9h0M1688.2 292.2h0M1689.7 266.3h0M1691.1 346.0h0M1692.3 284.2h0M1694.1 306.2h0M1695.7 314.1h0M1696.7 269.3h0M1698.1 304.2h0M1699.7 316.1h0M1701.3 286.4h0M1702.7 308.3h0M1704.1 297.2h0M1705.7 285.8h0M1707.3 295.8h0M1709.7 258.5h0M1712.7 264.3h0M1714.7 254.9h0M1717.1 252.9h0M1719.3 249.9h0M1721.3 247.9h0M1723.2 248.9h0M1725.6 247.9h0M1727.0 252.9h0M1728.6 254.5h0M1728.0 258.5h0M1730.6 258.9h0M1732.0 267.5h0M1734.6 273.2h0M1736.0 280.2h0M1737.2 264.3h0M1739.2 259.9h0M1740.6 263.5h0M1742.0 264.9h0M1743.6 268.5h0M1745.0 290.8h0M1746.6 254.9h0M1748.0 255.3h0M1749.6 266.5h0M1751.0 272.9h0M1752.2 286.2h0M1754.0 264.9h0M1756.9 305.8h0M1758.1 297.4h0M1762.5 291.8h0M1763.9 275.2h0M1765.1 264.3h0M1770.5 290.2h0M1771.5 271.9h0M1774.5 281.4h0M1775.9 298.8h0M1777.5 288.8h0M1779.5 274.4h0M1781.5 275.2h0M1783.1 265.9h0M1784.5 268.9h0M1786.1 258.5h0M1787.9 265.9h0M1789.1 256.5h0M1791.0 250.3h0M1793.4 248.9h0M1795.4 246.9h0M1797.8 242.9h0M1799.8 247.3h0M1801.8 248.9h0M1803.4 246.3h0M1804.8 244.5h0M1806.4 252.9h0M1808.4 253.9h0M1809.8 258.9h0M1811.4 257.9h0M1813.4 252.9h0M1815.0 249.3h0M1817.0 253.3h0M1818.4 286.8h0M1820.0 261.9h0M1821.4 277.2h0M1825.3 282.4h0M1826.9 304.2h0M1828.7 282.4h0M1830.3 277.8h0M1831.7 273.8h0M1832.9 284.8h0M1835.7 273.2h0M1837.3 316.7h0M1841.7 323.3h0M1842.9 310.7h0M1847.7 259.5h0M1848.9 296.4h0M1850.7 289.8h0M1851.9 269.9h0M1853.3 282.8h0M1854.7 276.8h0M1856.2 279.4h0M1857.6 284.8h0M1859.2 274.8h0M1860.8 271.5h0M1862.2 277.8h0M1863.6 271.9h0M1865.2 284.2h0M1866.6 266.9h0M1867.8 260.9h0M1869.2 258.5h0M1870.8 253.9h0M1872.2 243.5h0M1874.2 242.9h0M1876.2 243.9h0M1878.2 245.3h0M1880.2 247.3h0M1881.8 249.9h0M1883.2 251.9h0M1884.6 262.9h0M1885.2 254.5h0M1886.8 256.5h0M1888.2 258.9h0M1889.7 288.8h0M1891.1 261.9h0M1892.7 328.1h0M1894.5 318.7h0M1896.1 310.7h0M1899.1 311.3h0M1900.7 262.3h0M1903.1 275.2h0M1904.5 285.8h0M1907.1 295.8h0M1909.1 327.1h0M1910.5 296.8h0M1915.1 286.2h0M1916.5 286.8h0M1918.1 253.3h0M1919.5 271.9h0M1924.6 330.1h0M1928.0 332.7h0M1931.0 273.8h0M1934.0 294.2h0M1937.6 269.9h0M1940.0 260.3h0M1943.0 259.9h0M1945.0 255.3h0M1947.0 260.3h0M1948.6 253.9h0M1950.4 241.5h0M1952.0 250.9h0M1954.4 252.9h0M1956.0 248.9h0M1957.3 246.9h0M1958.9 243.5h0M1962.9 271.5h0M1966.3 314.1h0M1967.9 351.0h0M1971.9 284.2h0M1976.9 303.4h0"/>
<path class="tr" d="M70.2 277.40L1977.4 270.90"/>
<text class="tk" transform="translate(59.6 365.7) scale(1 1.06)" text-anchor="end">2000</text>
<text class="tk" transform="translate(59.6 304.5) scale(1 1.06)" text-anchor="end">2200</text>
<text class="tk" transform="translate(59.6 243.4) scale(1 1.06)" text-anchor="end">2400</text>
<text class="ti" transform="translate(1023.9 224.4) scale(1 1.03)" text-anchor="middle">Station 2</text>
</g>
<g id="p3">
<path class="ax" d="M70.15 434.97V557.60H1978.00"/>
<path class="tc" d="M70.15 435.57h19.5M70.15 466.08h19.5M70.15 496.59h19.5M70.15 527.09h19.5M451.60 557.60v-19M833.05 557.60v-19M1214.50 557.60v-19M1595.95 557.60v-19M1977.40 557.60v-19"/>
<path class="d" d="M71.0 524.1h0M72.6 525.3h0M85.9 545.2h0M87.3 516.1h0M88.9 482.4h0M90.3 502.4h0M91.9 461.5h0M93.3 472.9h0M95.5 471.9h0M97.5 470.3h0M99.3 469.5h0M100.9 542.7h0M102.3 453.5h0M103.5 450.5h0M104.9 457.9h0M106.3 464.5h0M107.9 456.9h0M109.3 480.4h0M110.4 472.9h0M112.2 475.9h0M113.4 467.3h0M114.8 475.5h0M116.8 457.9h0M118.2 461.9h0M119.8 457.9h0M121.4 462.9h0M122.8 467.3h0M124.2 478.8h0M125.4 462.5h0M127.2 460.9h0M128.4 485.8h0M129.8 469.9h0M131.4 474.5h0M135.4 553.0h0M136.8 518.1h0M140.2 538.7h0M141.4 482.8h0M143.2 515.3h0M153.1 550.6h0M154.7 516.7h0M157.3 485.2h0M159.1 545.0h0M160.7 491.2h0M162.1 539.7h0M163.3 493.4h0M166.7 535.1h0M167.7 546.2h0M169.3 501.8h0M171.1 530.3h0M172.3 487.2h0M174.7 508.4h0M176.7 508.4h0M178.0 478.8h0M179.6 476.8h0M181.2 475.3h0M182.6 462.9h0M184.0 461.9h0M186.6 468.9h0M188.2 467.9h0M189.6 468.3h0M191.0 456.9h0M192.6 479.2h0M194.0 466.9h0M195.6 500.8h0M197.2 456.3h0M199.0 467.3h0M200.2 458.9h0M201.6 500.4h0M203.0 474.5h0M204.6 461.5h0M206.2 482.8h0M207.6 485.8h0M209.0 493.8h0M210.5 482.8h0M211.9 553.0h0M213.1 471.9h0M214.5 489.8h0M216.1 477.2h0M217.5 519.3h0M218.9 485.8h0M220.5 517.7h0M222.1 490.2h0M223.5 528.7h0M227.9 550.2h0M229.1 513.1h0M230.9 501.8h0M233.9 553.0h0M235.1 536.7h0M237.9 474.5h0M239.5 491.4h0M241.1 467.3h0M242.5 472.3h0M243.8 465.3h0M245.4 460.9h0M248.0 464.3h0M249.8 492.4h0M251.0 506.8h0M252.4 498.2h0M253.8 505.8h0M255.4 500.8h0M257.0 468.9h0M258.8 507.8h0M260.0 487.8h0M261.4 473.9h0M263.0 479.4h0M264.4 467.3h0M266.0 458.9h0M267.4 464.9h0M268.8 472.3h0M270.0 480.8h0M271.4 464.3h0M275.0 457.3h0M276.4 463.9h0M277.7 459.9h0M278.9 465.9h0M280.3 456.5h0M283.7 473.5h0M284.9 537.7h0M286.3 473.5h0M293.9 487.8h0M296.7 546.2h0M300.9 556.0h0M302.3 536.7h0M303.7 523.7h0M305.3 502.8h0M306.9 519.1h0M308.3 481.2h0M309.7 474.5h0M311.2 473.3h0M313.6 488.2h0M315.2 485.4h0M317.2 483.4h0M318.6 547.6h0M319.8 531.7h0M324.2 485.4h0M325.6 499.8h0M327.2 501.4h0M328.8 491.4h0M330.2 478.8h0M331.8 500.2h0M333.2 489.8h0M335.2 465.9h0M337.6 484.4h0M338.8 467.3h0M340.6 477.4h0M342.2 468.3h0M343.5 457.3h0M345.1 461.9h0M346.5 468.9h0M349.1 474.5h0M350.5 494.2h0M352.5 494.4h0M354.1 464.9h0M355.5 494.8h0M356.7 550.0h0M358.1 464.5h0M359.5 481.4h0M361.1 491.2h0M362.5 496.4h0M363.7 483.8h0M365.1 501.4h0M366.7 486.8h0M368.5 471.5h0M370.1 475.5h0M371.5 502.8h0M372.7 516.7h0M375.7 522.3h0M377.0 484.2h0M380.0 495.8h0M381.4 515.1h0M383.0 465.9h0M384.4 479.4h0M385.6 467.5h0M387.0 477.2h0M389.0 474.5h0M390.4 487.8h0M393.0 516.3h0M394.6 501.8h0M396.0 474.5h0M397.6 479.2h0M400.6 542.1h0M403.6 507.4h0M405.0 456.3h0M406.6 522.7h0M407.6 488.8h0M409.0 469.9h0M410.5 458.9h0M411.9 493.8h0M413.9 486.4h0M415.3 494.4h0M416.5 464.3h0M418.3 477.8h0M419.9 475.5h0M420.9 495.2h0M422.9 483.4h0M428.5 466.5h0M429.9 496.4h0M465.0 490.4h0M466.4 470.3h0M468.4 471.5h0M470.4 470.3h0M472.4 468.9h0M475.4 524.3h0M476.9 437.6h0M478.3 518.3h0M479.5 456.3h0M480.9 475.9h0M482.5 524.3h0M483.9 482.2h0M487.3 462.9h0M488.5 466.5h0M489.9 490.8h0M492.3 466.9h0M493.9 477.4h0M495.5 503.8h0M496.9 455.9h0M499.9 472.9h0M501.3 493.8h0M503.3 460.9h0M504.5 477.2h0M506.3 459.9h0M507.3 488.4h0M508.9 479.8h0M510.2 472.3h0M511.8 467.3h0M513.2 495.8h0M514.4 475.3h0M519.2 540.3h0M522.2 549.2h0M530.8 507.2h0M538.2 506.2h0M539.4 521.3h0M549.7 492.4h0M551.1 473.9h0M552.7 510.3h0M554.1 466.9h0M555.7 494.8h0M557.1 541.1h0M560.1 499.2h0M561.7 473.9h0M562.7 493.8h0M564.3 456.5h0M565.7 469.9h0M567.1 475.9h0M568.7 491.4h0M570.1 485.8h0M571.7 477.8h0M573.3 483.2h0M574.7 468.9h0M577.6 482.4h0M579.0 467.3h0M580.6 460.9h0M583.0 466.5h0M584.6 474.5h0M586.2 507.8h0M588.0 524.1h0M592.2 500.4h0M593.6 477.4h0M595.0 469.9h0M596.6 479.8h0M598.0 490.2h0M599.6 483.8h0M601.0 486.8h0M602.6 488.8h0M604.0 484.8h0M605.2 480.8h0M606.6 485.8h0M608.0 489.8h0M611.1 545.0h0M612.5 557.0h0M614.1 483.8h0M615.5 498.2h0M617.1 472.3h0M618.9 488.2h0M620.5 518.1h0M621.5 545.0h0M622.9 486.8h0M624.1 557.6h0M625.9 468.3h0M627.1 469.9h0M628.9 453.3h0M630.5 442.4h0M631.9 441.0h0M633.1 474.9h0M635.9 458.9h0M640.5 483.4h0M650.4 463.9h0M653.4 463.3h0M655.0 457.3h0M657.8 480.4h0M659.4 503.2h0M660.8 496.8h0M662.0 481.8h0M663.4 485.8h0M665.0 487.8h0M666.8 495.2h0M669.8 465.9h0M675.4 504.4h0M684.3 509.7h0M685.9 479.8h0M687.3 494.8h0M688.7 482.4h0M691.3 483.4h0M693.3 527.1h0M694.7 515.7h0M697.3 480.4h0M710.6 476.4h0M719.2 496.4h0M725.2 469.9h0M731.2 499.4h0M732.8 487.2h0M734.2 462.3h0M736.8 473.9h0M738.6 500.4h0M739.8 461.5h0M741.2 472.9h0M742.8 474.9h0M744.1 534.3h0M745.7 540.3h0M747.1 513.7h0M750.1 543.6h0M753.1 513.3h0M760.5 514.3h0M762.1 508.2h0M766.1 490.4h0M769.1 478.2h0M771.1 479.2h0M772.1 486.8h0M773.7 485.2h0M776.5 510.3h0M781.0 468.9h0M782.4 494.2h0M784.0 467.3h0M785.4 473.9h0M787.0 468.5h0M788.4 473.3h0M789.6 461.9h0M791.0 473.9h0M792.6 468.5h0M794.4 485.8h0M796.0 464.5h0M797.6 468.5h0M799.6 467.3h0M801.0 476.4h0M802.6 479.8h0M804.0 483.2h0M805.0 485.8h0M806.0 492.4h0M807.4 470.9h0M808.6 453.5h0M810.3 491.4h0M811.5 466.5h0M812.5 457.9h0M814.5 459.3h0M816.5 510.1h0M817.5 486.2h0M820.5 494.8h0M821.9 472.3h0M824.5 472.3h0M826.3 483.2h0M828.3 503.2h0M829.5 475.9h0M830.5 483.8h0M831.9 487.8h0M833.3 482.8h0M834.9 493.2h0M839.3 463.3h0M840.9 481.4h0M842.3 467.9h0M844.8 471.9h0M846.8 455.9h0M848.2 452.5h0M850.4 458.5h0M852.4 527.7h0M853.8 470.3h0M855.4 477.8h0M856.8 467.3h0M858.2 485.2h0M859.4 474.9h0M862.0 459.9h0M863.0 490.8h0M864.4 447.5h0M866.0 456.5h0M867.6 463.9h0M869.0 462.9h0M870.4 473.9h0M871.6 483.8h0M873.0 456.3h0M874.4 478.4h0M876.0 468.5h0M877.3 473.9h0M878.9 459.5h0M880.3 478.4h0M881.9 456.9h0M883.3 464.5h0M884.9 462.5h0M886.3 476.8h0M887.9 461.9h0M889.5 458.9h0M890.5 462.9h0M891.9 457.5h0M893.5 478.8h0M899.5 515.1h0M900.9 463.9h0M902.5 519.7h0M905.5 528.1h0M906.9 479.8h0M908.3 468.9h0M909.9 550.2h0M910.8 500.2h0M912.2 498.8h0M913.8 470.3h0M915.4 487.2h0M916.8 477.2h0M918.4 467.3h0M919.8 527.3h0M921.4 527.7h0M922.8 475.3h0M924.2 511.1h0M925.8 467.9h0M928.8 494.2h0M930.2 468.9h0M931.8 485.2h0M933.4 466.5h0M934.8 452.5h0M936.2 464.9h0M937.8 460.3h0M939.2 468.9h0M941.8 448.3h0M943.2 456.9h0M944.7 435.6h0M946.3 461.9h0M947.7 467.3h0M949.1 458.5h0M950.7 446.5h0M952.1 452.9h0M953.7 460.5h0M955.3 450.5h0M956.7 447.5h0M958.1 471.5h0M959.3 453.5h0M966.7 496.8h0M968.7 497.2h0M969.7 477.8h0M974.1 496.4h0M975.7 487.2h0M981.6 464.3h0M983.0 483.4h0M984.6 451.9h0M1016.5 526.1h0M1017.9 483.2h0M1020.9 490.2h0M1022.5 522.1h0M1023.5 502.8h0M1026.9 486.2h0M1028.1 499.8h0M1029.9 477.2h0M1031.1 465.5h0M1032.5 468.5h0M1033.9 457.3h0M1035.5 457.9h0M1037.1 456.9h0M1038.5 477.8h0M1040.1 468.9h0M1041.5 470.9h0M1042.9 463.9h0M1044.4 465.9h0M1045.8 455.9h0M1047.4 467.9h0M1048.8 453.5h0M1051.4 452.9h0M1054.4 491.8h0M1056.4 468.9h0M1057.4 493.8h0M1058.8 473.3h0M1060.4 467.9h0M1067.4 470.9h0M1069.0 544.0h0M1070.8 487.2h0M1072.0 509.2h0M1073.4 485.8h0M1074.4 480.8h0M1076.4 475.3h0M1077.9 498.4h0M1079.3 484.8h0M1080.7 506.8h0M1082.3 518.3h0M1083.7 531.1h0M1087.9 545.6h0M1089.7 461.9h0M1090.9 516.3h0M1092.3 490.2h0M1093.9 544.0h0M1095.3 475.9h0M1096.7 480.8h0M1098.3 473.9h0M1099.9 476.8h0M1101.3 452.9h0M1102.7 482.8h0M1104.3 457.5h0M1105.7 479.8h0M1108.9 474.9h0M1111.6 461.9h0M1114.2 478.4h0M1115.8 488.4h0M1117.2 464.5h0M1118.6 467.9h0M1120.2 462.9h0M1121.8 485.8h0M1123.2 468.9h0M1124.8 479.8h0M1126.6 470.9h0M1127.6 502.2h0M1129.2 483.4h0M1130.6 472.3h0M1132.2 499.2h0M1133.6 521.1h0M1134.8 557.2h0M1136.2 478.8h0M1140.8 491.2h0M1139.8 499.2h0M1142.6 499.4h0M1147.7 507.8h0M1150.1 505.8h0M1151.1 461.9h0M1152.5 503.8h0M1154.1 473.3h0M1155.7 501.4h0M1157.1 457.3h0M1158.5 517.3h0M1159.7 489.4h0M1162.7 462.5h0M1164.1 484.8h0M1165.7 466.5h0M1167.1 483.8h0M1168.5 485.8h0M1170.1 447.3h0M1171.5 475.5h0M1173.1 539.1h0M1174.5 501.4h0M1175.7 489.8h0M1177.4 508.8h0M1178.6 470.3h0M1180.0 490.2h0M1181.6 476.4h0M1183.4 492.8h0M1184.6 452.9h0M1186.4 466.5h0M1188.0 457.3h0M1189.6 460.9h0M1191.0 458.9h0M1192.4 463.3h0M1194.0 464.3h0M1195.0 456.9h0M1196.6 468.9h0M1198.0 481.8h0M1199.4 477.4h0M1201.0 502.2h0M1204.0 480.2h0M1207.0 511.7h0M1212.5 460.3h0M1216.9 479.4h0M1221.3 516.7h0M1222.9 528.1h0M1224.3 506.8h0M1230.3 548.0h0M1239.9 530.3h0M1241.9 531.3h0M1243.3 486.4h0M1244.8 489.4h0M1246.2 500.8h0M1247.4 515.1h0M1249.2 490.8h0M1250.8 469.5h0M1253.4 450.9h0M1254.8 478.8h0M1256.4 469.9h0M1257.8 454.5h0M1259.2 438.4h0M1262.4 449.5h0M1264.0 452.9h0M1266.0 454.9h0M1268.0 456.9h0M1270.0 458.3h0M1272.4 482.8h0M1275.6 463.9h0M1276.9 471.5h0M1278.3 484.2h0M1281.3 517.7h0M1284.3 453.9h0M1288.5 512.1h0M1289.9 477.8h0M1292.9 520.7h0M1295.9 477.2h0M1297.5 526.1h0M1298.9 469.9h0M1300.5 502.8h0M1304.3 478.2h0M1305.9 480.4h0M1307.5 463.5h0M1310.4 455.5h0M1312.2 492.4h0M1313.4 467.5h0M1315.2 474.9h0M1316.4 505.2h0M1317.8 481.8h0M1319.4 469.9h0M1321.4 468.5h0M1322.4 472.9h0M1323.8 467.9h0M1325.4 471.9h0M1326.8 468.3h0M1328.2 470.9h0M1329.4 452.3h0M1331.2 497.4h0M1332.2 455.9h0M1333.8 454.9h0M1335.4 448.3h0M1336.8 462.3h0M1338.4 450.3h0M1339.4 459.9h0M1341.2 465.9h0M1342.4 461.9h0M1343.7 457.9h0M1348.7 452.9h0M1351.3 453.9h0M1354.7 481.4h0M1357.3 511.3h0M1359.1 498.2h0M1364.7 491.2h0M1370.3 478.2h0M1372.1 518.7h0M1373.3 475.3h0M1375.1 499.4h0M1376.7 474.3h0M1383.6 461.3h0M1386.6 455.9h0M1388.2 480.8h0M1389.6 451.3h0M1408.6 515.7h0M1420.1 456.5h0M1424.5 466.3h0M1474.4 452.9h0M1491.7 449.5h0M1510.8 515.3h0M1516.6 529.3h0M1518.2 532.3h0M1525.6 504.8h0M1533.2 448.5h0M1540.2 501.8h0M1541.8 502.2h0M1544.5 452.9h0M1553.5 504.2h0M1556.5 453.3h0M1557.7 510.3h0M1563.5 468.3h0M1565.1 462.9h0M1568.5 512.3h0M1569.7 478.8h0M1571.1 501.8h0M1572.7 485.2h0M1573.7 466.9h0M1575.1 529.3h0M1576.7 449.9h0M1578.0 455.3h0M1579.6 468.5h0M1583.0 501.4h0M1584.0 472.3h0M1587.4 528.1h0M1590.0 491.4h0M1591.6 461.3h0M1593.0 468.5h0M1594.6 554.2h0M1595.6 472.5h0M1597.4 477.2h0M1598.6 482.4h0M1604.6 480.8h0M1607.6 496.8h0M1609.0 557.2h0M1611.9 465.3h0M1616.3 461.9h0M1617.5 469.3h0M1618.9 499.4h0M1624.9 497.2h0M1626.5 451.5h0M1627.9 502.8h0M1629.5 457.3h0M1630.9 492.4h0M1632.3 479.8h0M1633.9 485.8h0M1635.3 488.8h0M1636.9 480.4h0M1638.3 460.3h0M1639.5 462.3h0M1641.3 450.9h0M1642.9 450.9h0M1644.2 455.5h0M1645.8 457.9h0M1647.4 456.3h0M1649.8 451.9h0M1651.4 485.8h0M1652.8 481.8h0M1654.4 461.3h0M1656.2 529.3h0M1658.4 474.5h0M1659.8 474.3h0M1661.4 466.9h0M1662.8 465.9h0M1664.4 494.4h0M1665.8 464.5h0M1668.8 481.2h0M1674.8 512.1h0M1680.4 531.7h0M1682.2 507.2h0M1686.4 515.3h0M1689.7 554.6h0M1691.1 464.5h0M1693.1 529.7h0M1695.1 531.7h0M1698.1 527.1h0M1699.7 551.2h0M1702.7 474.3h0M1705.7 543.2h0M1707.3 499.2h0M1708.3 512.7h0M1711.1 466.5h0M1714.1 474.5h0M1715.7 467.9h0M1716.1 452.9h0M1718.7 467.3h0M1721.7 455.9h0M1724.2 448.3h0M1726.2 448.3h0M1727.6 457.9h0M1730.0 456.3h0M1729.2 467.5h0M1731.6 469.9h0M1733.2 473.9h0M1734.6 483.4h0M1736.0 484.8h0M1737.6 475.9h0M1739.2 488.4h0M1740.6 475.9h0M1742.2 543.2h0M1743.6 473.3h0M1745.0 518.3h0M1746.6 494.4h0M1748.0 502.4h0M1749.2 473.9h0M1751.0 489.4h0M1752.6 496.8h0M1754.0 497.8h0M1755.2 490.4h0M1756.9 556.6h0M1759.5 543.0h0M1765.5 526.7h0M1766.9 511.3h0M1771.9 498.8h0M1772.9 534.1h0M1775.9 515.7h0M1780.5 513.1h0M1784.9 474.9h0M1786.1 502.2h0M1787.9 491.8h0M1789.4 484.2h0M1790.4 524.7h0M1792.4 476.8h0M1793.4 461.9h0M1796.4 451.9h0M1798.4 439.6h0M1799.8 446.9h0M1801.0 450.3h0M1802.4 451.9h0M1803.8 449.5h0M1805.0 465.3h0M1806.8 442.0h0M1808.0 467.9h0M1809.4 465.9h0M1811.0 463.3h0M1812.4 476.4h0M1815.4 455.3h0M1816.8 465.5h0M1818.4 467.5h0M1819.8 493.4h0M1821.4 478.8h0M1822.9 506.4h0M1826.9 510.7h0M1829.7 511.7h0M1831.3 499.4h0M1832.9 506.4h0M1837.3 479.8h0M1842.9 535.3h0M1846.3 479.4h0M1848.9 449.3h0M1850.7 527.7h0M1851.9 513.3h0M1853.3 535.7h0M1854.9 501.4h0M1856.6 498.8h0M1858.2 497.4h0M1860.8 496.4h0M1862.2 478.8h0M1863.2 507.8h0M1865.2 506.8h0M1866.8 555.6h0M1868.2 477.8h0M1870.2 476.8h0M1872.6 475.9h0M1870.8 452.5h0M1874.2 439.6h0M1875.8 443.9h0M1877.2 447.5h0M1878.6 444.5h0M1879.8 440.6h0M1881.6 446.3h0M1882.8 454.5h0M1884.2 453.3h0M1885.8 471.9h0M1887.2 464.5h0M1888.8 472.9h0M1890.1 468.9h0M1892.7 478.2h0M1902.1 459.5h0M1903.1 508.4h0M1904.5 516.1h0M1906.1 501.2h0M1911.7 501.8h0M1916.1 508.2h0M1917.7 505.8h0M1919.5 466.5h0M1920.7 489.8h0M1931.0 538.7h0M1932.4 495.4h0M1934.0 482.8h0M1937.0 514.3h0M1938.0 502.2h0M1940.0 481.8h0M1941.4 472.3h0M1943.0 477.2h0M1944.4 469.9h0M1946.0 468.5h0M1947.6 469.3h0M1949.0 467.9h0M1950.6 466.5h0M1952.0 439.6h0M1953.4 442.0h0M1956.0 457.3h0M1957.3 447.9h0M1960.3 444.3h0M1964.5 485.8h0M1976.3 504.2h0"/>
<path class="tr" d="M70.2 499.20L1977.4 501.20"/>
<text class="tk" transform="translate(59.6 568.5) scale(1 1.06)" text-anchor="end">2000</text>
<text class="tk" transform="translate(59.6 507.5) scale(1 1.06)" text-anchor="end">2200</text>
<text class="tk" transform="translate(59.6 446.5) scale(1 1.06)" text-anchor="end">2400</text>
<text class="ti" transform="translate(1023.9 427.5) scale(1 1.03)" text-anchor="middle">Station 3</text>
</g>
<g id="p4">
<path class="ax" d="M70.15 637.93V759.76H1978.00"/>
<path class="tc" d="M70.15 638.53h19.5M70.15 668.84h19.5M70.15 699.14h19.5M70.15 729.45h19.5M451.60 759.76v-19M833.05 759.76v-19M1214.50 759.76v-19M1595.95 759.76v-19M1977.40 759.76v-19"/>
<path class="d" d="M69.6 716.1h0M71.4 687.4h0M72.6 660.9h0M74.4 759.6h0M76.9 704.8h0M79.9 713.7h0M81.5 754.0h0M82.9 706.8h0M85.9 703.8h0M87.3 689.8h0M88.5 671.5h0M90.3 689.8h0M91.9 659.3h0M93.3 663.9h0M94.9 669.9h0M95.9 672.9h0M97.5 666.9h0M99.3 713.3h0M100.5 721.7h0M103.5 653.3h0M104.9 661.9h0M107.9 676.9h0M109.9 678.5h0M111.2 678.9h0M113.8 667.5h0M116.4 661.3h0M117.8 666.5h0M119.4 658.9h0M122.4 666.9h0M123.8 690.8h0M125.4 660.9h0M126.8 662.9h0M129.8 672.9h0M131.4 665.9h0M132.8 710.2h0M134.2 701.8h0M135.8 706.8h0M137.2 721.1h0M139.8 711.8h0M141.2 670.9h0M142.8 667.5h0M150.1 753.2h0M153.1 742.1h0M154.7 728.7h0M156.1 686.4h0M157.3 675.3h0M159.1 681.8h0M160.3 697.8h0M161.7 700.4h0M163.3 707.2h0M165.1 739.3h0M166.3 728.1h0M167.7 720.7h0M169.3 693.2h0M171.1 710.2h0M172.1 673.3h0M175.3 690.4h0M176.7 726.1h0M178.0 681.2h0M180.2 681.8h0M181.2 669.9h0M184.0 659.9h0M186.0 661.3h0M187.6 670.9h0M189.2 661.9h0M191.0 660.9h0M193.2 676.3h0M195.6 693.2h0M197.2 656.9h0M198.6 664.5h0M200.6 660.3h0M201.6 677.9h0M203.0 671.9h0M204.2 660.3h0M206.0 666.5h0M207.2 702.8h0M209.0 686.2h0M210.5 678.5h0M211.9 690.8h0M213.1 675.3h0M214.5 719.3h0M216.1 693.2h0M217.5 682.4h0M218.9 686.4h0M220.5 704.8h0M223.9 681.8h0M227.9 704.8h0M230.9 676.9h0M232.1 749.6h0M233.9 720.7h0M235.1 741.7h0M237.9 682.8h0M239.5 676.5h0M240.9 668.3h0M242.5 661.9h0M243.8 668.9h0M245.4 661.5h0M246.8 682.2h0M248.0 663.3h0M249.8 700.8h0M251.0 689.8h0M252.4 688.2h0M254.0 720.1h0M255.4 697.4h0M257.0 702.8h0M258.4 692.4h0M260.0 677.9h0M261.4 664.9h0M262.8 683.4h0M264.4 660.9h0M265.8 665.9h0M267.4 666.9h0M268.8 675.3h0M270.4 673.3h0M273.0 672.5h0M275.0 660.3h0M277.3 659.9h0M280.3 657.9h0M282.7 671.5h0M283.7 668.5h0M286.3 673.9h0M291.9 701.8h0M293.7 700.4h0M295.3 681.8h0M296.7 718.3h0M297.9 746.2h0M299.9 745.3h0M302.3 732.3h0M303.9 667.9h0M305.3 697.4h0M306.9 682.4h0M311.2 669.9h0M314.2 672.3h0M315.8 685.2h0M317.2 676.5h0M318.6 711.4h0M319.8 694.4h0M321.6 755.6h0M323.2 743.1h0M324.6 677.5h0M328.8 670.9h0M331.8 713.1h0M333.2 699.4h0M334.8 690.2h0M336.2 678.3h0M340.6 675.9h0M341.8 664.9h0M343.5 660.3h0M344.7 668.3h0M346.5 670.3h0M349.1 676.3h0M350.7 690.8h0M352.5 688.4h0M353.7 669.5h0M355.1 695.4h0M356.7 715.7h0M358.1 673.3h0M359.7 671.3h0M361.1 668.5h0M362.5 684.8h0M364.1 676.9h0M365.1 687.2h0M366.7 654.9h0M368.5 658.9h0M370.1 673.5h0M371.1 709.8h0M372.7 686.8h0M374.1 682.4h0M375.5 698.4h0M377.0 689.8h0M378.4 692.4h0M380.0 693.8h0M381.4 673.9h0M383.0 670.3h0M384.6 664.9h0M386.0 668.9h0M387.6 665.5h0M389.0 669.5h0M390.4 677.5h0M392.6 676.9h0M394.6 687.8h0M396.0 669.9h0M397.4 673.5h0M399.0 714.7h0M400.6 681.2h0M403.6 665.5h0M405.0 672.3h0M406.6 692.8h0M409.0 659.9h0M410.5 662.5h0M412.3 680.8h0M414.9 676.5h0M420.9 689.8h0M428.3 665.9h0M465.0 666.9h0M467.0 665.9h0M469.0 670.9h0M470.4 664.5h0M472.0 668.9h0M473.6 722.1h0M476.9 693.4h0M478.3 746.6h0M479.5 714.3h0M480.9 667.5h0M482.5 698.8h0M483.9 662.5h0M487.3 679.8h0M488.5 669.3h0M492.9 656.9h0M494.3 676.3h0M495.5 687.2h0M496.9 658.5h0M498.3 672.9h0M499.9 676.9h0M501.3 679.8h0M502.9 665.9h0M504.3 672.5h0M506.3 663.3h0M507.9 669.9h0M508.9 684.2h0M510.4 648.9h0M512.2 666.9h0M514.4 664.3h0M517.4 723.3h0M529.2 717.7h0M530.8 696.2h0M538.2 692.8h0M539.4 674.3h0M541.2 737.1h0M544.1 758.6h0M545.3 731.3h0M548.3 741.3h0M549.7 690.2h0M551.1 666.9h0M553.1 709.4h0M554.1 661.3h0M555.7 697.8h0M557.3 696.8h0M560.1 678.9h0M561.7 688.8h0M563.3 689.8h0M564.3 672.9h0M565.7 676.3h0M567.3 671.9h0M568.7 686.2h0M570.3 677.9h0M571.7 668.9h0M573.3 678.9h0M574.7 679.4h0M577.6 693.2h0M579.2 669.9h0M580.6 663.3h0M582.2 666.9h0M585.0 679.8h0M587.6 684.4h0M590.6 734.7h0M592.2 675.3h0M593.6 663.3h0M595.2 666.5h0M597.0 670.3h0M598.6 673.3h0M600.2 675.3h0M602.0 676.3h0M603.0 686.2h0M605.2 682.4h0M607.6 676.5h0M610.0 741.7h0M611.1 721.1h0M612.5 699.2h0M614.1 676.9h0M615.5 669.9h0M617.1 674.3h0M618.5 659.3h0M620.5 716.3h0M621.5 728.3h0M623.1 681.4h0M625.9 669.3h0M628.9 657.5h0M630.5 645.9h0M631.9 649.5h0M633.1 681.4h0M634.5 712.3h0M640.5 664.9h0M650.8 659.5h0M653.4 664.5h0M655.0 661.5h0M657.8 681.4h0M659.4 699.8h0M662.0 679.8h0M663.8 693.2h0M665.4 666.3h0M666.8 687.8h0M668.0 710.8h0M669.8 661.9h0M671.4 683.4h0M675.8 665.3h0M684.3 705.4h0M685.9 677.3h0M687.3 662.5h0M688.7 671.9h0M690.3 658.9h0M691.7 678.9h0M695.9 695.4h0M697.7 681.2h0M698.9 725.7h0M734.2 662.5h0M737.2 674.9h0M738.6 688.8h0M739.8 659.3h0M741.2 669.5h0M744.1 699.2h0M745.7 716.7h0M747.1 698.2h0M749.1 697.8h0M750.1 720.7h0M751.5 716.3h0M753.1 713.3h0M754.7 726.3h0M762.1 687.4h0M763.5 713.3h0M764.7 697.2h0M766.5 686.2h0M769.1 670.9h0M770.7 672.3h0M772.1 689.2h0M773.7 678.9h0M776.5 675.9h0M781.0 679.4h0M782.4 666.5h0M784.0 673.3h0M785.6 650.3h0M787.0 674.5h0M788.6 671.9h0M790.4 674.9h0M791.6 670.9h0M793.0 677.9h0M794.4 696.8h0M795.6 671.5h0M797.0 676.9h0M798.4 673.3h0M800.0 677.9h0M801.6 679.4h0M803.0 681.8h0M804.4 686.8h0M806.6 671.5h0M807.6 663.3h0M809.0 661.5h0M810.3 688.2h0M811.5 664.9h0M812.9 674.5h0M814.3 661.3h0M815.5 676.9h0M817.5 691.2h0M818.9 714.1h0M820.5 681.2h0M821.9 669.5h0M823.3 658.9h0M824.9 666.9h0M826.5 670.9h0M829.5 671.5h0M830.9 676.9h0M831.9 668.3h0M833.5 676.3h0M839.9 664.3h0M842.5 668.9h0M844.8 662.9h0M846.8 653.9h0M848.2 654.9h0M849.8 664.9h0M851.2 661.3h0M852.4 688.2h0M853.8 666.3h0M855.4 670.9h0M857.4 686.8h0M858.8 670.3h0M862.4 667.9h0M864.0 673.9h0M866.0 650.9h0M867.6 668.5h0M869.0 677.5h0M871.6 677.5h0M873.6 659.3h0M875.0 669.5h0M876.4 665.9h0M877.9 674.5h0M879.3 665.9h0M881.9 655.9h0M883.3 665.3h0M884.9 675.3h0M886.5 666.9h0M889.3 657.9h0M890.9 660.9h0M892.3 664.5h0M893.5 672.5h0M895.3 666.5h0M896.9 731.7h0M899.3 682.8h0M900.5 664.9h0M902.3 673.5h0M905.3 693.8h0M906.9 672.3h0M908.3 667.5h0M909.9 679.4h0M911.2 691.4h0M912.8 674.5h0M914.2 670.3h0M915.4 667.9h0M916.8 675.3h0M918.2 660.3h0M919.8 679.8h0M921.4 676.9h0M922.8 673.9h0M924.2 671.5h0M925.8 684.4h0M927.2 714.3h0M928.8 710.8h0M930.2 670.5h0M931.4 679.4h0M933.2 695.8h0M934.8 661.3h0M936.8 659.9h0M938.8 655.9h0M940.4 653.3h0M941.8 651.3h0M943.3 654.9h0M945.1 656.3h0M946.3 664.9h0M947.7 665.5h0M949.3 660.5h0M950.7 649.5h0M952.1 658.9h0M953.3 667.5h0M955.1 653.5h0M956.7 649.9h0M958.1 668.9h0M959.3 658.3h0M966.7 675.3h0M968.1 695.2h0M969.7 672.9h0M971.3 670.9h0M972.7 668.3h0M974.1 665.9h0M975.7 662.9h0M977.2 661.9h0M981.6 688.2h0M983.0 679.4h0M984.6 665.3h0M1016.5 667.9h0M1017.9 669.5h0M1019.1 677.5h0M1020.9 688.2h0M1022.5 711.2h0M1023.9 689.8h0M1025.5 661.9h0M1026.9 686.8h0M1028.1 694.2h0M1029.9 665.3h0M1031.1 683.2h0M1032.5 666.3h0M1033.9 670.3h0M1035.5 649.9h0M1036.9 660.9h0M1038.1 666.9h0M1039.5 669.5h0M1041.1 665.5h0M1042.5 665.5h0M1044.0 649.9h0M1045.4 653.9h0M1047.0 641.0h0M1048.4 647.9h0M1049.8 643.0h0M1051.4 648.3h0M1054.4 676.9h0M1056.4 673.9h0M1057.8 671.5h0M1059.0 669.9h0M1060.8 655.9h0M1063.0 707.8h0M1066.0 704.8h0M1067.4 673.3h0M1069.0 680.8h0M1070.4 675.9h0M1072.0 672.5h0M1073.4 676.9h0M1075.0 671.5h0M1076.4 667.9h0M1077.9 678.9h0M1079.3 663.9h0M1080.7 709.8h0M1082.3 671.9h0M1083.7 735.7h0M1085.3 734.3h0M1086.7 728.7h0M1088.3 704.8h0M1089.7 660.9h0M1090.9 687.4h0M1092.3 690.8h0M1093.9 719.1h0M1095.7 665.5h0M1098.3 689.8h0M1099.9 658.9h0M1101.3 670.3h0M1102.9 662.5h0M1104.3 672.9h0M1106.3 675.5h0M1107.7 677.9h0M1109.3 676.3h0M1111.6 660.5h0M1113.2 665.9h0M1114.6 686.8h0M1115.8 680.2h0M1117.2 671.9h0M1118.6 669.9h0M1120.2 664.3h0M1121.8 671.5h0M1123.2 668.5h0M1125.2 670.3h0M1127.8 676.9h0M1129.2 671.5h0M1130.8 664.9h0M1132.2 672.5h0M1133.8 685.8h0M1135.2 688.8h0M1136.8 674.5h0M1139.8 692.2h0M1141.2 673.3h0M1142.6 682.4h0M1145.1 720.3h0M1146.5 752.6h0M1148.1 690.2h0M1149.5 664.9h0M1151.1 661.9h0M1153.1 665.9h0M1155.5 666.9h0M1157.1 653.9h0M1158.5 667.5h0M1160.1 671.5h0M1162.7 662.9h0M1164.5 651.9h0M1165.7 655.9h0M1167.1 685.2h0M1168.7 648.9h0M1170.1 658.9h0M1171.5 670.3h0M1173.1 760.2h0M1174.5 653.5h0M1175.7 689.4h0M1177.0 697.2h0M1178.6 675.3h0M1180.0 681.8h0M1181.6 676.9h0M1183.4 675.3h0M1186.4 666.5h0M1188.0 661.3h0M1189.4 649.9h0M1190.6 664.9h0M1192.4 667.5h0M1194.0 664.9h0M1195.0 661.9h0M1196.6 670.5h0M1198.0 681.8h0M1199.6 673.9h0M1200.6 701.2h0M1202.4 710.8h0M1204.0 714.3h0M1207.0 718.1h0M1208.0 736.7h0M1210.9 659.5h0M1212.5 664.5h0M1216.9 653.3h0M1219.9 692.8h0M1221.3 680.2h0M1222.9 683.8h0M1224.3 673.5h0M1230.3 683.2h0M1231.3 698.4h0M1232.9 743.1h0M1235.9 701.2h0M1237.5 743.1h0M1238.9 739.7h0M1240.5 714.1h0M1241.9 660.9h0M1243.3 671.5h0M1244.8 672.5h0M1246.2 685.8h0M1247.8 678.9h0M1249.4 671.9h0M1251.8 670.9h0M1253.4 659.5h0M1254.8 667.5h0M1256.4 665.5h0M1258.2 653.5h0M1261.6 652.3h0M1263.0 656.9h0M1265.0 658.9h0M1267.0 660.9h0M1269.0 662.5h0M1271.0 663.9h0M1273.0 666.9h0M1274.4 661.9h0M1276.9 669.9h0M1278.3 686.2h0M1280.9 718.1h0M1282.9 716.1h0M1284.3 680.2h0M1288.5 668.3h0M1289.9 681.8h0M1291.5 705.4h0M1292.9 714.1h0M1295.9 694.8h0M1297.9 668.5h0M1299.9 692.2h0M1301.9 732.1h0M1302.9 694.8h0M1304.3 669.5h0M1306.3 690.2h0M1307.5 669.9h0M1309.3 709.4h0M1311.8 697.2h0M1313.4 654.9h0M1314.8 678.3h0M1316.4 667.3h0M1317.8 680.8h0M1319.4 656.9h0M1320.8 665.9h0M1322.4 657.9h0M1323.8 666.9h0M1325.4 658.5h0M1326.8 662.9h0M1328.2 659.9h0M1329.8 652.9h0M1330.8 664.9h0M1332.2 656.9h0M1333.8 658.9h0M1335.4 653.3h0M1337.4 655.3h0M1338.8 656.9h0M1340.2 660.9h0M1341.8 662.9h0M1343.3 660.5h0M1346.1 658.9h0M1348.7 661.3h0M1351.3 654.9h0M1354.7 675.9h0M1356.1 686.8h0M1357.3 693.4h0M1358.7 687.4h0M1363.1 728.1h0M1364.7 742.7h0M1365.7 678.3h0M1368.7 679.2h0M1370.7 681.8h0M1372.1 677.5h0M1373.7 672.3h0M1375.1 668.3h0M1376.3 663.9h0M1378.0 662.5h0M1379.6 664.9h0M1382.0 659.5h0M1383.6 663.3h0M1385.2 665.3h0M1386.6 671.9h0M1388.0 667.5h0M1389.6 695.8h0M1391.0 721.1h0M1393.0 714.3h0M1395.2 702.4h0M1397.6 679.4h0M1398.6 691.2h0M1400.6 680.2h0M1401.6 682.8h0M1404.2 707.8h0M1408.6 675.3h0M1414.5 666.5h0M1417.5 669.9h0M1420.5 657.9h0M1424.5 666.3h0M1425.9 658.3h0M1427.5 671.5h0M1428.9 697.4h0M1430.5 671.9h0M1432.1 711.8h0M1433.1 676.3h0M1434.5 669.5h0M1436.5 669.5h0M1437.9 680.2h0M1439.1 689.8h0M1442.5 726.7h0M1445.0 740.7h0M1446.4 710.8h0M1451.0 721.3h0M1459.8 684.8h0M1470.0 664.3h0M1471.4 652.5h0M1473.0 692.8h0M1474.4 658.3h0M1475.8 656.3h0M1477.3 676.5h0M1478.7 688.2h0M1480.3 663.9h0M1482.9 678.9h0M1484.7 686.8h0M1485.9 682.8h0M1487.3 675.3h0M1488.9 677.5h0M1490.3 660.9h0M1491.9 659.9h0M1493.3 648.3h0M1496.3 652.9h0M1497.9 644.6h0M1500.7 672.5h0M1502.3 677.5h0M1503.7 670.5h0M1504.9 694.4h0M1510.8 666.9h0M1512.2 675.5h0M1513.8 672.9h0M1516.8 690.2h0M1518.2 716.3h0M1525.6 702.4h0M1528.6 737.3h0M1533.2 736.3h0M1534.8 684.8h0M1536.2 688.4h0M1537.6 691.4h0M1538.8 680.2h0M1540.2 693.4h0M1541.6 689.8h0M1543.2 695.8h0M1544.5 725.3h0M1546.1 658.9h0M1547.5 672.3h0M1549.1 646.5h0M1552.1 682.4h0M1554.5 688.2h0M1556.1 683.4h0M1557.7 714.3h0M1562.5 680.2h0M1563.7 667.9h0M1567.1 674.5h0M1568.5 658.5h0M1570.1 659.9h0M1571.5 665.5h0M1573.1 663.3h0M1574.5 658.9h0M1575.7 676.5h0M1577.0 654.9h0M1578.4 654.5h0M1580.0 675.3h0M1581.4 683.4h0M1583.0 664.9h0M1584.4 655.3h0M1585.6 682.8h0M1587.0 710.2h0M1588.6 670.5h0M1590.0 696.2h0M1591.4 671.9h0M1593.0 678.3h0M1596.0 678.9h0M1597.6 675.3h0M1599.0 673.3h0M1600.4 726.3h0M1604.6 677.9h0M1606.4 737.7h0M1607.6 684.8h0M1609.0 721.7h0M1610.5 673.3h0M1611.9 664.9h0M1613.9 666.9h0M1616.3 658.5h0M1617.9 674.9h0M1619.3 681.2h0M1620.5 744.3h0M1622.3 727.7h0M1624.9 672.9h0M1626.5 656.3h0M1627.9 659.9h0M1629.5 665.5h0M1630.9 669.9h0M1632.3 666.9h0M1633.9 678.5h0M1635.3 681.4h0M1636.5 671.5h0M1638.3 662.9h0M1639.5 664.9h0M1641.3 652.5h0M1642.9 652.9h0M1644.2 650.3h0M1645.8 653.9h0M1647.4 651.9h0M1648.8 654.9h0M1650.4 657.3h0M1651.4 670.9h0M1652.8 665.9h0M1654.4 660.5h0M1656.2 681.2h0M1657.8 669.9h0M1659.8 669.9h0M1661.4 688.2h0M1662.8 653.3h0M1664.4 667.9h0M1665.8 662.5h0M1667.4 680.4h0M1668.8 666.3h0M1674.8 736.1h0M1680.8 689.4h0M1682.2 724.1h0M1683.8 682.8h0M1686.8 712.3h0M1688.2 669.9h0M1689.3 714.7h0M1691.1 677.3h0M1692.3 750.0h0M1693.7 695.4h0M1695.3 705.8h0M1696.7 696.8h0M1698.1 676.3h0M1699.7 718.1h0M1701.3 730.7h0M1702.7 693.2h0M1704.1 736.1h0M1705.7 705.2h0M1708.3 693.4h0M1711.1 660.5h0M1712.7 670.9h0M1714.1 665.9h0M1715.7 662.9h0M1717.7 659.9h0M1719.7 657.5h0M1721.3 655.5h0M1723.0 654.3h0M1725.0 651.5h0M1726.2 653.9h0M1727.6 665.9h0M1729.0 659.9h0M1730.6 656.3h0M1732.0 662.5h0M1733.6 673.3h0M1735.2 677.5h0M1736.6 682.8h0M1737.6 689.8h0M1739.2 671.9h0M1740.6 666.9h0M1742.0 688.2h0M1743.6 676.9h0M1745.0 682.8h0M1746.6 690.8h0M1748.0 661.9h0M1749.2 669.5h0M1751.0 679.4h0M1752.6 677.5h0M1754.0 692.8h0M1755.2 675.3h0M1758.1 710.8h0M1759.5 717.3h0M1764.1 709.4h0M1765.5 686.8h0M1767.1 671.5h0M1771.5 703.4h0M1772.9 698.4h0M1775.5 703.4h0M1777.1 711.8h0M1779.1 724.1h0M1780.5 688.2h0M1781.9 708.8h0M1783.1 690.8h0M1784.9 665.5h0M1786.1 676.9h0M1787.9 664.5h0M1789.4 673.3h0M1791.0 661.3h0M1792.8 658.9h0M1794.4 656.9h0M1796.4 651.3h0M1797.8 648.9h0M1799.0 645.0h0M1800.8 650.5h0M1802.4 653.9h0M1804.0 656.3h0M1805.4 658.9h0M1806.8 648.9h0M1808.4 660.3h0M1810.4 664.9h0M1812.0 662.9h0M1815.4 654.5h0M1816.8 658.3h0M1818.4 660.3h0M1819.8 668.9h0M1821.4 676.3h0M1822.9 684.4h0M1826.9 694.4h0M1828.7 715.7h0M1829.9 704.8h0M1831.7 689.4h0M1833.3 688.2h0M1837.3 663.5h0M1841.9 729.1h0M1842.9 752.6h0M1844.9 753.6h0M1846.7 720.7h0M1848.9 656.3h0M1850.3 697.4h0M1853.3 688.8h0M1854.7 696.2h0M1856.2 692.4h0M1857.6 682.8h0M1859.2 698.4h0M1860.6 664.3h0M1862.2 677.9h0M1863.6 682.4h0M1865.2 685.2h0M1866.6 705.8h0M1868.2 674.5h0M1869.6 669.9h0M1871.2 660.9h0M1872.6 656.9h0M1873.8 652.5h0M1875.2 646.5h0M1876.8 647.9h0M1878.2 651.3h0M1879.8 648.9h0M1881.2 652.9h0M1882.8 654.9h0M1884.2 657.5h0M1885.6 665.9h0M1887.2 660.3h0M1888.8 662.9h0M1890.1 665.9h0M1893.1 681.8h0M1896.5 743.7h0M1901.1 746.6h0M1902.1 686.4h0M1903.1 678.9h0M1904.7 685.8h0M1906.1 705.2h0M1909.1 733.1h0M1916.5 707.4h0M1917.7 696.2h0M1919.5 669.5h0M1921.1 692.8h0M1931.0 725.7h0M1932.4 675.9h0M1934.0 678.9h0M1936.6 690.4h0M1938.0 681.2h0M1940.0 686.8h0M1943.0 668.5h0M1944.4 665.9h0M1946.0 664.5h0M1947.6 660.9h0M1949.0 670.9h0M1948.0 665.9h0M1951.0 645.4h0M1953.4 645.6h0M1954.6 656.3h0M1956.0 660.9h0M1957.3 654.9h0M1958.9 652.5h0M1962.9 741.7h0M1964.5 676.9h0M1973.5 738.3h0M1976.3 735.1h0M1978.3 687.4h0"/>
<path class="tr" d="M70.2 685.80L1977.4 682.20"/>
<text class="tk" transform="translate(59.6 770.7) scale(1 1.06)" text-anchor="end">2000</text>
<text class="tk" transform="translate(59.6 710.0) scale(1 1.06)" text-anchor="end">2200</text>
<text class="tk" transform="translate(59.6 649.4) scale(1 1.06)" text-anchor="end">2400</text>
<text class="ti" transform="translate(1023.9 630.4) scale(1 1.03)" text-anchor="middle">Station 4</text>
</g>
<g id="p5">
<path class="ax" d="M70.15 840.47V962.86H1978.00"/>
<path class="tc" d="M70.15 841.07h19.5M70.15 871.52h19.5M70.15 901.97h19.5M70.15 932.41h19.5M451.60 962.86v-19M833.05 962.86v-19M1214.50 962.86v-19M1595.95 962.86v-19M1977.40 962.86v-19"/>
<path class="d" d="M69.6 875.5h0M71.0 866.5h0M72.6 861.9h0M74.4 897.2h0M76.0 896.2h0M77.3 914.8h0M78.5 894.4h0M79.9 917.3h0M81.5 907.2h0M82.9 885.4h0M85.9 890.4h0M91.9 858.9h0M93.3 861.9h0M95.5 874.3h0M97.5 864.3h0M99.3 887.4h0M103.9 857.5h0M105.5 857.9h0M106.9 856.3h0M107.9 887.2h0M123.8 868.3h0M125.2 857.9h0M126.8 854.5h0M128.4 860.9h0M129.8 871.9h0M131.4 864.9h0M132.8 868.3h0M134.2 871.3h0M135.8 872.5h0M137.2 906.4h0M138.8 893.8h0M140.2 915.3h0M141.4 867.9h0M143.2 877.9h0M146.1 935.1h0M149.1 908.8h0M150.3 919.7h0M151.7 926.1h0M157.7 873.9h0M159.1 863.3h0M160.3 890.2h0M161.7 885.8h0M163.1 888.8h0M164.7 901.4h0M166.3 906.8h0M167.7 879.3h0M169.3 880.9h0M170.7 878.3h0M172.1 882.8h0M173.7 869.5h0M175.1 889.8h0M176.7 878.9h0M178.0 867.5h0M182.0 864.5h0M184.0 854.9h0M186.2 856.3h0M188.0 858.3h0M189.6 860.5h0M191.0 867.9h0M192.6 871.9h0M194.0 866.5h0M195.6 862.3h0M197.2 859.9h0M199.0 862.9h0M200.6 860.5h0M202.0 864.9h0M203.2 867.9h0M204.2 857.5h0M206.0 864.5h0M207.6 873.9h0M209.2 866.9h0M210.5 868.9h0M211.9 862.5h0M213.5 863.9h0M214.9 920.7h0M216.1 893.4h0M217.5 866.3h0M218.9 885.4h0M220.5 884.2h0M222.1 920.3h0M223.5 868.3h0M226.5 933.3h0M227.9 914.4h0M229.5 916.3h0M230.9 887.4h0M232.5 918.3h0M235.1 897.4h0M237.9 864.9h0M239.5 861.5h0M242.5 857.3h0M245.4 863.5h0M246.8 867.9h0M248.0 860.5h0M250.4 866.3h0M252.4 873.9h0M254.0 878.5h0M255.8 873.3h0M257.0 890.2h0M261.4 866.5h0M264.4 857.9h0M267.0 860.5h0M271.8 865.5h0M274.4 860.9h0M275.8 862.9h0M277.3 857.9h0M278.7 861.9h0M280.3 860.5h0M281.9 871.5h0M283.7 869.9h0M284.9 881.3h0M286.3 864.9h0M290.7 908.4h0M292.3 888.4h0M293.9 874.5h0M295.3 888.4h0M296.7 897.8h0M298.3 901.8h0M299.9 908.4h0M301.3 918.7h0M302.7 915.3h0M304.3 856.3h0M305.7 895.8h0M306.9 877.3h0M314.2 863.3h0M317.2 874.9h0M318.6 874.5h0M319.8 882.4h0M321.6 912.8h0M322.8 919.1h0M324.6 866.9h0M326.2 908.8h0M328.8 867.3h0M330.2 881.5h0M331.8 895.2h0M350.7 874.5h0M352.5 877.9h0M355.1 887.4h0M356.5 877.3h0M357.7 863.3h0M359.7 864.9h0M361.1 866.9h0M362.7 871.9h0M364.1 868.5h0M365.7 869.9h0M367.1 857.5h0M369.1 857.5h0M370.5 869.9h0M371.7 858.5h0M373.1 863.9h0M374.5 859.9h0M376.1 865.9h0M377.4 863.5h0M379.0 864.9h0M380.4 872.9h0M381.6 862.5h0M384.4 861.9h0M390.4 867.3h0M395.0 870.5h0M396.0 861.5h0M397.6 858.9h0M399.0 874.9h0M400.6 887.2h0M402.0 880.9h0M466.4 870.5h0M468.0 857.9h0M470.4 859.9h0M472.0 861.9h0M473.6 894.4h0M475.6 894.4h0M476.9 903.4h0M478.3 907.8h0M479.5 914.4h0M481.3 861.9h0M482.5 877.9h0M487.3 874.5h0M488.5 867.9h0M489.9 878.9h0M492.9 869.9h0M495.5 876.5h0M496.9 862.9h0M498.9 863.9h0M500.9 861.5h0M503.5 859.9h0M505.5 862.9h0M507.5 873.5h0M508.9 869.3h0M510.2 857.9h0M511.8 857.9h0M513.4 862.9h0M516.4 894.2h0M517.8 884.8h0M519.2 893.2h0M520.8 891.8h0M522.2 884.8h0M530.8 889.2h0M533.4 905.2h0M535.2 901.8h0M538.2 886.4h0M539.4 867.3h0M541.2 901.8h0M548.3 931.7h0M549.7 870.3h0M551.3 859.9h0M554.1 860.5h0M555.7 876.3h0M560.1 884.4h0M561.7 869.5h0M564.3 859.9h0M566.7 874.9h0M568.3 879.3h0M569.7 869.9h0M571.3 867.9h0M573.1 883.8h0M574.7 872.9h0M577.6 873.9h0M579.2 863.9h0M582.0 859.3h0M584.6 871.9h0M587.0 870.5h0M589.2 872.9h0M590.6 880.3h0M592.2 867.9h0M593.6 858.9h0M595.2 862.3h0M596.6 865.9h0M598.0 868.5h0M599.2 861.9h0M601.0 857.9h0M602.6 862.9h0M604.0 859.9h0M606.6 860.9h0M608.6 861.9h0M610.0 865.3h0M611.5 864.5h0M613.1 862.3h0M614.5 859.9h0M615.9 857.9h0M620.5 904.4h0M621.5 883.4h0M665.4 862.9h0M666.8 868.5h0M668.4 864.9h0M669.8 866.9h0M671.4 868.5h0M675.8 857.5h0M684.7 889.4h0M685.9 880.3h0M687.3 857.9h0M688.7 863.3h0M691.7 875.9h0M693.3 900.8h0M694.7 887.4h0M696.3 900.8h0M698.9 902.8h0M740.2 862.3h0M745.7 873.9h0M747.5 876.5h0M749.1 884.2h0M750.7 886.8h0M752.1 895.4h0M754.7 895.4h0M756.1 867.9h0M760.1 880.5h0M761.5 890.8h0M763.1 890.8h0M764.5 880.9h0M769.1 860.9h0M770.5 866.9h0M772.1 874.5h0M773.7 869.9h0M776.7 869.5h0M781.0 864.3h0M782.6 859.9h0M784.0 861.9h0M785.6 857.9h0M787.0 864.5h0M788.6 861.9h0M790.0 858.9h0M792.6 858.5h0M794.4 870.3h0M796.0 864.5h0M798.0 861.9h0M800.0 875.3h0M801.6 868.9h0M803.0 874.5h0M804.6 885.8h0M806.0 882.8h0M807.4 859.3h0M808.6 861.9h0M810.3 864.5h0M811.9 866.3h0M813.3 854.5h0M814.9 856.9h0M816.5 868.9h0M818.3 871.9h0M819.5 862.9h0M820.9 875.5h0M822.9 862.3h0M824.3 858.9h0M826.5 874.5h0M827.9 861.5h0M829.9 857.5h0M831.9 860.5h0M834.5 862.9h0M839.9 856.9h0M842.5 857.9h0M844.8 858.5h0M847.4 855.3h0M852.4 871.3h0M853.8 862.9h0M855.8 867.3h0M857.8 864.9h0M862.0 863.9h0M863.6 865.9h0M865.0 857.5h0M866.6 870.9h0M868.0 867.9h0M870.0 869.9h0M871.6 871.9h0M873.0 856.3h0M874.4 863.9h0M876.0 865.9h0M877.5 861.9h0M878.9 864.9h0M880.5 860.9h0M881.9 859.9h0M883.5 857.9h0M884.9 867.5h0M886.3 861.9h0M887.9 863.9h0M889.3 858.9h0M890.5 851.9h0M891.9 866.9h0M893.5 861.9h0M894.9 863.9h0M896.5 865.9h0M897.9 860.9h0M899.5 862.9h0M901.3 857.9h0M902.9 859.9h0M904.3 861.9h0M905.9 862.9h0M907.3 852.5h0M908.9 856.9h0M910.2 858.9h0M911.8 861.9h0M912.8 865.5h0M914.2 859.9h0M915.8 860.9h0M917.8 861.9h0M919.2 856.9h0M920.8 857.9h0M922.2 860.9h0M923.4 864.5h0M924.8 868.9h0M926.2 870.9h0M927.4 884.8h0M928.8 895.4h0M930.2 873.5h0M931.8 871.9h0M933.2 863.9h0M934.8 855.9h0M936.4 852.5h0M937.8 853.9h0M939.2 851.9h0M940.4 847.0h0M941.8 851.5h0M943.3 857.9h0M944.7 854.9h0M946.1 864.9h0M947.7 871.3h0M949.1 856.9h0M950.7 852.9h0M952.1 863.5h0M953.3 857.9h0M955.1 859.9h0M956.3 854.3h0M957.7 867.9h0M959.1 859.9h0M966.7 869.9h0M968.1 871.9h0M969.7 865.9h0M971.3 867.9h0M972.7 873.9h0M974.1 864.9h0M975.7 867.9h0M977.0 863.9h0M978.2 883.2h0M979.6 868.5h0M981.6 876.3h0M983.0 892.4h0M984.6 860.3h0M1016.1 855.3h0M1017.9 857.9h0M1019.5 864.9h0M1020.9 869.3h0M1022.1 881.9h0M1023.9 860.9h0M1025.5 865.9h0M1027.1 871.9h0M1028.5 862.9h0M1029.9 859.9h0M1031.1 865.9h0M1032.5 857.9h0M1033.9 855.9h0M1035.5 852.9h0M1037.1 858.9h0M1038.5 857.5h0M1039.9 862.9h0M1041.5 859.9h0M1042.9 857.9h0M1044.4 868.9h0M1045.8 858.9h0M1047.4 860.9h0M1048.8 849.3h0M1050.0 851.9h0M1051.8 857.9h0M1053.8 859.9h0M1055.8 858.5h0M1057.8 857.9h0M1059.4 855.9h0M1060.8 854.9h0M1063.0 866.5h0M1064.4 864.9h0M1066.0 867.9h0M1067.4 861.9h0M1069.0 857.5h0M1070.4 859.9h0M1071.8 863.9h0M1073.4 860.9h0M1075.0 861.9h0M1076.7 855.5h0M1078.3 858.9h0M1079.9 857.5h0M1081.3 860.9h0M1082.7 863.9h0M1083.9 867.9h0M1084.9 880.5h0M1086.7 890.4h0M1087.9 876.3h0M1089.7 856.9h0M1090.9 864.9h0M1092.7 877.5h0M1093.9 862.9h0M1095.3 859.9h0M1096.7 855.9h0M1098.3 870.3h0M1099.7 856.9h0M1101.3 866.9h0M1102.7 860.9h0M1103.9 857.5h0M1105.9 886.8h0M1107.3 875.5h0M1108.7 862.9h0M1110.2 861.9h0M1111.6 863.9h0M1113.2 869.9h0M1114.6 870.9h0M1115.8 867.9h0M1117.2 868.9h0M1118.6 862.9h0M1120.2 855.9h0M1121.8 861.9h0M1123.2 858.9h0M1124.8 863.9h0M1126.2 860.9h0M1127.8 862.9h0M1129.2 864.9h0M1130.6 859.5h0M1132.2 861.9h0M1133.8 877.5h0M1135.2 869.3h0M1136.6 863.9h0M1138.2 866.9h0M1139.8 870.9h0M1141.2 866.9h0M1142.6 872.9h0M1144.1 874.9h0M1145.5 890.2h0M1146.7 902.4h0M1148.1 879.5h0M1149.7 859.9h0M1151.5 858.9h0M1153.1 859.9h0M1154.7 857.9h0M1156.1 855.9h0M1157.1 853.9h0M1158.5 860.9h0M1159.7 857.9h0M1161.1 861.9h0M1162.7 858.9h0M1164.1 862.9h0M1165.5 857.9h0M1167.1 861.9h0M1168.5 856.9h0M1170.1 854.9h0M1171.5 859.9h0M1173.1 868.9h0M1174.5 855.9h0M1175.7 871.9h0M1177.0 874.9h0M1178.4 862.9h0M1180.0 859.9h0M1181.4 866.9h0M1183.0 861.9h0M1184.6 854.3h0M1186.4 856.9h0M1187.6 862.9h0M1189.0 855.5h0M1190.6 859.9h0M1192.0 857.9h0M1193.4 863.9h0M1195.0 856.9h0M1196.6 867.9h0M1198.0 861.9h0M1199.6 864.9h0M1201.0 862.9h0M1202.6 867.9h0M1204.0 863.9h0M1205.6 865.9h0M1207.0 868.9h0M1208.4 872.9h0M1210.0 886.2h0M1215.5 902.2h0M1216.9 862.9h0M1219.9 894.2h0M1221.3 860.5h0M1222.9 885.4h0M1224.3 858.5h0M1230.3 863.3h0M1231.3 886.2h0M1234.5 918.1h0M1235.9 869.9h0M1238.9 903.2h0M1239.9 855.9h0M1241.9 858.9h0M1243.3 854.3h0M1244.8 860.9h0M1246.2 856.9h0M1247.8 861.9h0M1249.2 854.9h0M1250.8 858.9h0M1252.2 861.9h0M1253.8 856.9h0M1255.4 859.9h0M1256.8 855.9h0M1258.4 860.9h0M1261.6 852.9h0M1263.6 854.9h0M1265.6 861.9h0M1267.6 862.9h0M1269.4 859.9h0M1271.0 863.5h0M1272.6 861.9h0M1274.0 868.3h0M1275.6 863.9h0M1277.3 860.3h0M1278.9 861.9h0M1280.5 864.5h0M1282.5 874.5h0M1283.9 860.5h0M1285.5 861.9h0M1287.3 894.2h0M1288.5 859.9h0M1289.9 866.9h0M1294.5 914.4h0M1295.9 861.9h0M1297.3 854.3h0M1298.9 855.5h0M1300.3 875.5h0M1301.9 883.4h0M1303.3 869.9h0M1304.9 873.9h0M1306.3 874.5h0M1307.5 863.3h0M1309.3 900.4h0M1310.4 882.8h0M1311.8 866.5h0M1313.2 854.5h0M1315.4 853.9h0M1317.2 861.9h0M1318.8 851.9h0M1320.8 851.3h0M1322.4 854.9h0M1323.8 849.5h0M1325.8 850.3h0M1327.4 849.9h0M1328.8 851.9h0M1330.2 856.9h0M1331.4 858.9h0M1332.8 853.5h0M1334.4 854.9h0M1335.8 856.9h0M1337.4 853.5h0M1338.8 852.9h0M1340.2 856.9h0M1341.8 860.9h0M1343.2 862.9h0M1344.7 859.9h0M1346.3 854.9h0M1347.7 861.9h0M1349.3 858.9h0M1350.7 860.9h0M1352.3 861.9h0M1353.7 863.5h0M1355.7 863.9h0M1358.1 864.9h0M1359.7 861.9h0M1361.3 863.9h0M1363.1 867.9h0M1364.7 865.9h0M1366.1 850.9h0M1367.7 853.5h0M1369.3 856.9h0M1370.7 867.9h0M1372.1 858.9h0M1373.7 855.5h0M1375.3 854.9h0M1376.7 856.9h0M1378.0 853.9h0M1379.6 853.5h0M1381.0 860.9h0M1382.2 855.9h0M1383.6 857.9h0M1385.2 854.9h0M1386.6 866.3h0M1388.0 856.9h0M1389.6 855.5h0M1391.0 853.3h0M1392.6 869.9h0M1395.6 862.9h0M1397.6 861.5h0M1399.6 859.9h0M1401.0 863.5h0M1402.6 867.9h0M1404.0 872.9h0M1408.6 855.9h0M1410.5 854.9h0M1411.9 853.5h0M1413.5 856.9h0M1415.1 858.9h0M1417.1 876.9h0M1418.5 861.9h0M1420.1 858.9h0M1421.9 861.5h0M1423.5 862.9h0M1425.5 863.9h0M1427.1 865.9h0M1428.9 863.9h0M1430.5 866.9h0M1431.9 861.9h0M1433.5 859.9h0M1435.1 858.5h0M1436.9 857.9h0M1438.5 859.9h0M1439.5 861.9h0M1440.9 878.5h0M1442.5 869.3h0M1445.0 879.5h0M1446.4 881.9h0M1449.4 902.8h0M1450.8 893.8h0M1452.4 868.5h0M1453.8 885.4h0M1455.4 881.5h0M1460.0 896.2h0M1461.4 915.7h0M1462.8 845.6h0M1467.0 877.9h0M1469.0 853.9h0M1470.4 856.9h0M1471.8 862.9h0M1473.4 856.9h0M1474.8 854.3h0M1476.0 858.9h0M1477.3 876.9h0M1478.7 869.9h0M1480.3 861.5h0M1481.7 874.5h0M1483.3 861.9h0M1485.9 887.8h0M1487.3 882.8h0M1488.9 873.9h0M1490.7 862.9h0M1492.3 860.9h0M1493.9 858.9h0M1495.3 856.9h0M1496.9 855.5h0M1499.3 853.9h0M1500.7 872.9h0M1502.3 869.5h0M1503.7 863.3h0M1505.3 861.9h0M1506.9 860.9h0M1508.7 861.5h0M1510.2 859.9h0M1512.6 858.5h0M1514.2 860.5h0M1515.8 863.5h0M1517.2 865.9h0M1522.8 923.7h0M1525.6 900.2h0M1528.6 924.7h0M1533.2 913.2h0M1534.6 896.8h0M1536.2 900.4h0M1537.6 874.5h0M1539.2 904.4h0M1540.2 927.1h0M1541.8 875.5h0M1544.1 876.9h0M1546.1 878.3h0M1547.1 863.9h0M1548.5 858.9h0M1550.1 869.5h0M1551.5 860.9h0M1553.1 862.3h0M1554.5 863.3h0M1556.1 874.5h0M1557.7 872.5h0M1559.5 861.5h0M1561.1 862.3h0M1562.5 867.5h0M1564.1 860.5h0M1567.1 892.4h0M1568.5 856.3h0M1570.1 861.9h0M1571.5 863.9h0M1573.1 868.5h0M1574.7 864.9h0M1576.5 865.9h0M1578.0 864.9h0M1579.6 863.5h0M1581.4 861.9h0M1583.0 859.3h0M1585.0 857.9h0M1587.0 869.9h0M1589.0 860.5h0M1591.0 861.3h0M1593.0 861.9h0M1596.0 864.9h0M1597.6 862.3h0M1600.4 877.9h0M1603.0 864.3h0M1604.6 862.3h0M1606.0 896.4h0M1607.4 862.3h0M1609.0 890.4h0M1610.3 873.3h0M1611.9 857.9h0M1613.5 854.3h0M1615.3 856.3h0M1616.3 856.5h0M1617.9 866.3h0M1620.9 888.2h0M1622.3 873.5h0M1623.5 879.9h0M1624.9 867.9h0M1626.5 854.5h0M1628.9 855.5h0M1630.9 862.9h0M1632.3 867.5h0M1633.9 864.9h0M1635.9 858.9h0M1637.3 857.9h0M1638.5 870.3h0M1640.3 857.5h0M1642.5 858.3h0M1644.8 859.9h0M1646.8 861.5h0M1648.8 862.3h0M1650.8 865.5h0M1652.8 862.9h0M1655.2 867.5h0M1656.8 863.9h0M1658.8 860.9h0M1660.2 860.5h0M1662.2 858.9h0M1664.2 854.9h0M1665.8 857.5h0M1667.4 864.9h0M1669.2 859.9h0M1673.4 865.3h0M1682.4 910.4h0M1683.8 879.9h0M1686.4 862.5h0M1688.2 859.5h0M1689.7 891.8h0M1691.1 872.5h0M1693.7 894.2h0M1696.7 894.8h0M1698.1 870.9h0M1701.3 886.4h0M1702.7 878.5h0M1704.1 897.8h0M1705.7 886.2h0M1707.3 867.5h0M1708.7 891.8h0M1711.1 858.9h0M1713.1 861.9h0M1714.7 857.9h0M1716.3 860.5h0M1717.7 854.9h0M1719.3 862.3h0M1720.7 854.3h0M1722.3 859.9h0M1724.0 856.3h0M1725.6 860.9h0M1727.2 858.5h0M1728.6 861.9h0M1730.2 858.9h0M1732.0 862.9h0M1733.2 867.5h0M1735.0 866.9h0M1736.6 861.9h0M1738.0 859.9h0M1739.6 863.9h0M1741.2 857.9h0M1743.0 860.9h0M1745.0 862.3h0M1746.6 859.9h0M1748.0 858.5h0M1749.6 851.9h0M1751.0 861.9h0M1752.6 857.5h0M1754.0 860.9h0M1757.9 880.9h0M1759.5 885.8h0M1761.1 882.8h0M1763.5 881.5h0M1764.9 869.3h0M1767.1 868.5h0M1772.9 868.5h0M1775.5 869.9h0M1777.5 870.5h0M1780.5 859.3h0M1782.5 858.5h0M1784.9 856.9h0M1786.5 860.9h0M1787.9 857.9h0M1789.4 859.9h0M1791.0 857.5h0M1792.4 862.9h0M1794.0 857.9h0M1796.0 856.9h0M1797.8 855.9h0M1799.8 855.5h0M1801.8 854.9h0M1803.8 852.9h0M1806.0 863.9h0M1807.4 859.9h0M1808.8 856.9h0M1810.4 862.9h0M1812.0 858.9h0M1813.4 861.9h0M1815.0 862.9h0M1816.4 858.9h0M1818.4 859.9h0M1820.0 858.5h0M1821.4 856.9h0M1822.9 864.5h0M1828.3 881.9h0M1829.9 874.5h0M1832.7 867.5h0M1834.3 863.9h0M1835.7 873.9h0M1837.3 867.5h0M1841.7 905.2h0M1842.9 880.3h0M1846.7 897.2h0M1849.3 889.8h0M1850.3 876.9h0M1851.9 874.9h0M1853.3 865.9h0M1854.9 878.5h0M1856.2 866.9h0M1857.6 861.5h0M1859.2 873.9h0M1860.6 856.5h0M1862.2 878.3h0M1863.8 870.9h0M1865.2 871.9h0M1866.6 870.9h0M1867.8 859.9h0M1869.2 868.9h0M1870.8 858.9h0M1872.2 865.9h0M1873.8 857.9h0M1875.2 863.9h0M1876.6 856.9h0M1878.2 853.5h0M1879.6 865.5h0M1881.2 857.9h0M1882.6 854.3h0M1884.2 859.9h0M1885.8 861.9h0M1887.8 862.9h0M1890.1 862.5h0M1891.7 870.3h0M1893.1 868.5h0M1894.5 877.5h0M1896.1 866.9h0M1897.5 878.5h0M1899.1 876.3h0M1900.7 879.9h0M1902.1 875.5h0M1903.1 865.9h0M1904.5 859.3h0M1906.1 862.9h0M1909.1 873.9h0M1910.5 880.3h0M1911.7 892.8h0M1916.5 888.4h0M1917.7 873.9h0M1919.5 866.9h0M1920.7 876.3h0M1926.4 893.4h0M1929.0 876.9h0M1931.0 872.5h0M1932.4 862.9h0M1934.0 860.5h0M1935.6 864.9h0M1937.0 861.9h0M1938.6 859.3h0M1940.0 863.5h0M1941.6 867.5h0M1943.0 861.5h0M1944.6 863.9h0M1946.0 859.9h0M1947.4 857.9h0M1949.0 863.5h0M1950.4 858.9h0M1952.0 856.9h0M1953.4 861.9h0M1956.3 863.3h0M1960.5 858.5h0M1962.9 871.3h0M1964.9 862.9h0M1967.9 874.9h0M1969.3 862.3h0M1971.9 883.8h0M1973.9 868.9h0M1978.3 900.8h0"/>
<path class="tr" d="M70.2 875.50L1977.4 862.90"/>
<text class="tk" transform="translate(59.6 973.8) scale(1 1.06)" text-anchor="end">2000</text>
<text class="tk" transform="translate(59.6 912.9) scale(1 1.06)" text-anchor="end">2200</text>
<text class="tk" transform="translate(59.6 852.0) scale(1 1.06)" text-anchor="end">2400</text>
<text class="ti" transform="translate(1023.9 833.0) scale(1 1.03)" text-anchor="middle">Station 5</text>
</g>
<g id="p6">
<path class="ax" d="M70.15 1043.30V1165.80H1978.00"/>
<path class="tc" d="M70.15 1043.90h19.5M70.15 1074.38h19.5M70.15 1104.85h19.5M70.15 1135.33h19.5M451.60 1165.80v-19M833.05 1165.80v-19M1214.50 1165.80v-19M1595.95 1165.80v-19M1977.40 1165.80v-19"/>
<path class="d" d="M69.6 1116.4h0M72.6 1066.3h0M74.4 1085.2h0M76.0 1118.2h0M77.3 1127.3h0M78.5 1111.2h0M79.9 1142.1h0M82.9 1104.8h0M85.9 1099.8h0M91.9 1062.9h0M94.9 1077.5h0M96.5 1075.5h0M101.9 1064.3h0M103.9 1062.9h0M105.5 1061.9h0M107.9 1091.2h0M123.8 1070.5h0M125.4 1061.5h0M127.2 1059.9h0M128.4 1062.9h0M129.8 1070.9h0M131.4 1067.9h0M132.8 1070.3h0M134.2 1078.9h0M135.8 1072.9h0M137.2 1106.4h0M138.8 1087.4h0M140.2 1108.4h0M141.4 1069.9h0M143.2 1072.9h0M149.1 1149.7h0M150.3 1119.7h0M153.3 1143.7h0M156.3 1061.3h0M157.7 1080.9h0M159.1 1083.9h0M160.3 1098.8h0M162.1 1099.4h0M163.3 1091.8h0M164.7 1096.8h0M166.3 1101.8h0M167.7 1095.4h0M169.3 1085.2h0M170.7 1084.5h0M172.1 1076.5h0M173.7 1082.9h0M175.3 1082.3h0M176.7 1092.8h0M178.0 1073.5h0M181.0 1066.9h0M182.6 1065.9h0M184.0 1057.9h0M186.2 1063.9h0M188.2 1061.9h0M189.6 1064.5h0M191.0 1060.9h0M192.6 1074.3h0M194.0 1069.9h0M195.6 1071.9h0M197.2 1060.9h0M199.0 1064.5h0M200.6 1065.9h0M202.0 1070.9h0M203.2 1064.9h0M204.6 1060.5h0M206.0 1065.3h0M207.6 1073.9h0M209.0 1079.9h0M210.5 1070.9h0M211.9 1068.9h0M213.1 1067.5h0M216.1 1097.2h0M217.5 1070.5h0M218.9 1077.5h0M220.5 1100.2h0M223.5 1071.3h0M226.5 1159.6h0M227.9 1113.2h0M229.5 1122.1h0M230.9 1089.8h0M232.5 1123.3h0M233.9 1094.4h0M235.5 1095.8h0M238.1 1076.9h0M239.5 1064.9h0M242.5 1064.9h0M246.8 1075.5h0M248.0 1062.9h0M251.0 1066.5h0M252.4 1088.8h0M254.0 1084.5h0M257.0 1103.4h0M258.8 1086.2h0M263.0 1072.5h0M264.4 1063.5h0M266.0 1065.3h0M274.4 1067.9h0M276.0 1065.9h0M278.9 1067.5h0M281.9 1076.3h0M283.3 1066.3h0M286.3 1065.5h0M287.9 1071.5h0M289.3 1115.8h0M292.3 1104.8h0M293.9 1076.3h0M295.3 1098.4h0M296.7 1103.8h0M298.3 1132.7h0M299.9 1117.8h0M301.3 1115.8h0M302.7 1108.8h0M303.9 1077.5h0M305.7 1098.4h0M306.9 1081.5h0M317.2 1078.3h0M319.8 1083.9h0M321.2 1119.7h0M323.2 1120.3h0M324.6 1075.9h0M326.2 1098.2h0M330.2 1070.5h0M333.2 1071.3h0M349.5 1071.9h0M350.7 1080.9h0M352.5 1077.9h0M356.5 1081.3h0M357.7 1066.9h0M359.7 1068.9h0M361.1 1070.9h0M362.7 1071.5h0M364.1 1072.9h0M365.7 1074.5h0M367.1 1064.9h0M368.7 1063.3h0M370.1 1066.9h0M371.7 1069.9h0M373.1 1071.9h0M374.7 1065.9h0M376.1 1070.9h0M377.4 1075.5h0M379.0 1067.9h0M380.4 1071.5h0M382.0 1066.9h0M384.6 1065.9h0M387.6 1063.9h0M390.4 1082.5h0M394.6 1076.3h0M399.0 1072.9h0M402.0 1089.8h0M468.0 1064.5h0M470.6 1061.9h0M473.6 1088.2h0M475.4 1103.2h0M476.9 1109.8h0M478.3 1111.2h0M479.5 1114.2h0M481.3 1066.3h0M482.5 1075.5h0M484.3 1074.9h0M487.3 1082.3h0M488.5 1070.3h0M492.9 1063.9h0M494.3 1070.9h0M498.9 1067.5h0M501.3 1068.3h0M504.3 1064.5h0M506.3 1070.5h0M507.9 1072.9h0M510.2 1062.9h0M511.8 1065.3h0M513.4 1074.3h0M516.4 1115.2h0M517.8 1084.9h0M519.2 1091.2h0M522.2 1087.4h0M529.2 1151.7h0M530.8 1108.4h0M535.2 1103.4h0M536.8 1139.1h0M538.2 1093.8h0M539.4 1072.3h0M541.2 1106.2h0M545.1 1151.3h0M546.7 1147.7h0M548.3 1139.1h0M549.7 1076.3h0M551.3 1062.5h0M555.7 1077.5h0M558.3 1082.9h0M560.1 1072.3h0M567.3 1078.9h0M571.7 1086.4h0M573.3 1073.3h0M577.6 1095.4h0M579.2 1071.5h0M582.0 1068.9h0M584.6 1076.3h0M587.0 1074.9h0M589.2 1073.3h0M590.6 1078.9h0M592.2 1071.5h0M593.6 1062.9h0M595.6 1064.9h0M598.0 1072.9h0M599.6 1065.5h0M603.0 1058.5h0M604.6 1064.9h0M607.6 1063.5h0M609.2 1065.9h0M611.5 1068.9h0M612.9 1072.5h0M614.1 1068.5h0M615.9 1060.5h0M621.5 1082.5h0M665.4 1068.5h0M666.8 1080.5h0M668.4 1071.9h0M669.8 1068.9h0M671.4 1074.3h0M675.8 1055.5h0M684.7 1097.4h0M685.9 1088.4h0M687.3 1065.5h0M691.7 1080.9h0M693.3 1095.4h0M698.9 1116.8h0M742.8 1062.5h0M745.7 1075.9h0M747.1 1086.2h0M748.7 1082.9h0M750.1 1087.4h0M751.7 1083.9h0M754.7 1106.2h0M756.1 1073.3h0M762.1 1081.9h0M764.7 1093.8h0M766.1 1072.9h0M769.1 1065.3h0M770.5 1070.9h0M772.1 1083.3h0M773.7 1078.9h0M776.7 1072.5h0M782.0 1062.3h0M784.0 1061.5h0M785.6 1064.9h0M787.4 1063.5h0M789.0 1067.5h0M791.0 1070.5h0M792.6 1062.9h0M798.4 1066.9h0M800.0 1071.9h0M801.4 1084.9h0M803.0 1077.5h0M804.4 1088.2h0M806.0 1090.8h0M807.4 1069.9h0M808.6 1082.9h0M811.5 1072.5h0M812.9 1058.5h0M814.5 1059.3h0M816.3 1068.9h0M818.9 1076.9h0M820.5 1086.8h0M821.9 1069.5h0M823.5 1060.9h0M825.5 1063.3h0M826.5 1076.9h0M828.9 1060.9h0M830.9 1064.5h0M833.3 1068.9h0M834.9 1065.9h0M838.9 1060.5h0M841.9 1061.5h0M844.8 1060.5h0M847.8 1058.5h0M851.4 1067.3h0M853.8 1065.9h0M855.8 1063.5h0M857.2 1076.3h0M858.8 1067.9h0M862.0 1074.9h0M863.6 1070.9h0M865.0 1072.9h0M866.0 1059.3h0M867.6 1068.9h0M869.4 1071.9h0M871.4 1077.9h0M873.0 1059.9h0M874.4 1063.5h0M876.0 1066.9h0M877.5 1076.9h0M878.9 1064.9h0M880.5 1065.9h0M881.9 1064.9h0M884.9 1071.9h0M886.5 1071.5h0M889.3 1061.9h0M890.5 1055.5h0M891.9 1064.9h0M893.5 1067.9h0M895.3 1069.9h0M896.9 1071.5h0M899.3 1063.9h0M900.9 1061.9h0M902.5 1064.9h0M904.3 1067.5h0M905.9 1069.3h0M907.3 1058.9h0M908.9 1067.9h0M910.8 1066.9h0M912.8 1065.9h0M914.8 1063.9h0M916.4 1062.9h0M918.2 1061.5h0M919.8 1064.9h0M921.8 1065.9h0M923.8 1068.9h0M924.2 1083.3h0M925.8 1070.9h0M927.2 1088.2h0M928.8 1106.8h0M930.2 1099.2h0M931.4 1068.9h0M933.2 1071.9h0M934.8 1056.9h0M936.4 1054.9h0M937.8 1057.9h0M939.4 1058.9h0M941.8 1055.9h0M943.3 1059.9h0M944.7 1060.9h0M946.3 1058.5h0M947.7 1067.5h0M949.3 1060.5h0M950.7 1057.9h0M952.3 1072.5h0M953.7 1074.5h0M955.3 1059.9h0M956.7 1056.9h0M957.7 1068.9h0M959.3 1054.3h0M966.7 1073.9h0M968.3 1074.9h0M969.7 1072.9h0M971.3 1071.5h0M972.7 1082.3h0M974.1 1068.9h0M975.7 1066.9h0M977.2 1070.5h0M979.6 1062.3h0M981.6 1083.5h0M983.0 1070.9h0M984.6 1062.9h0M1016.1 1056.9h0M1017.5 1060.9h0M1018.9 1064.9h0M1020.5 1072.5h0M1022.1 1078.9h0M1023.5 1070.9h0M1025.1 1062.9h0M1026.5 1071.5h0M1028.1 1069.9h0M1029.5 1064.9h0M1031.1 1065.9h0M1032.5 1063.9h0M1034.1 1066.9h0M1035.5 1062.9h0M1037.1 1064.9h0M1038.5 1061.9h0M1040.1 1065.9h0M1041.5 1062.9h0M1042.9 1058.5h0M1044.4 1069.9h0M1045.8 1070.5h0M1047.4 1061.9h0M1048.8 1050.0h0M1050.4 1045.0h0M1051.8 1060.9h0M1053.4 1062.9h0M1055.0 1064.9h0M1056.4 1065.9h0M1058.0 1061.5h0M1059.4 1060.5h0M1061.0 1059.9h0M1063.0 1062.9h0M1064.4 1061.9h0M1066.0 1093.2h0M1067.4 1063.5h0M1069.0 1064.9h0M1070.4 1061.9h0M1071.8 1065.9h0M1073.4 1064.9h0M1075.0 1063.9h0M1076.7 1058.9h0M1078.3 1060.9h0M1079.9 1062.9h0M1081.3 1066.9h0M1082.9 1068.9h0M1084.3 1070.9h0M1085.3 1085.4h0M1086.7 1084.5h0M1088.3 1090.8h0M1089.7 1059.9h0M1090.9 1069.3h0M1092.7 1081.9h0M1093.9 1073.9h0M1095.3 1071.5h0M1096.7 1059.3h0M1098.3 1064.9h0M1099.9 1067.9h0M1101.3 1070.9h0M1102.7 1071.9h0M1104.3 1060.9h0M1105.7 1077.9h0M1107.3 1082.9h0M1108.7 1067.9h0M1110.2 1069.9h0M1111.6 1068.5h0M1113.2 1075.9h0M1114.6 1077.5h0M1115.8 1080.5h0M1117.2 1076.9h0M1118.6 1070.9h0M1120.2 1060.9h0M1121.8 1067.9h0M1123.2 1064.9h0M1124.8 1065.9h0M1126.2 1063.9h0M1127.8 1066.9h0M1129.2 1068.9h0M1130.6 1064.9h0M1132.2 1064.5h0M1133.8 1069.9h0M1135.2 1076.3h0M1136.6 1066.9h0M1138.2 1068.9h0M1139.8 1079.3h0M1141.2 1070.5h0M1144.1 1089.2h0M1146.7 1102.2h0M1148.1 1088.4h0M1149.7 1065.9h0M1151.5 1063.9h0M1153.1 1060.9h0M1154.7 1062.9h0M1156.1 1059.9h0M1157.1 1056.9h0M1158.5 1064.9h0M1159.7 1066.9h0M1161.1 1061.9h0M1162.7 1060.5h0M1164.1 1063.9h0M1165.7 1059.9h0M1167.1 1064.9h0M1168.5 1061.9h0M1170.1 1060.9h0M1171.5 1063.9h0M1173.1 1073.9h0M1174.5 1065.9h0M1175.7 1080.5h0M1177.0 1083.9h0M1178.4 1067.3h0M1180.0 1065.9h0M1181.6 1069.9h0M1183.0 1071.9h0M1184.6 1058.9h0M1186.4 1064.9h0M1187.6 1065.9h0M1189.0 1064.5h0M1190.6 1063.9h0M1192.0 1066.9h0M1193.4 1064.9h0M1195.0 1061.9h0M1196.6 1064.9h0M1198.0 1080.9h0M1199.6 1066.9h0M1201.0 1067.9h0M1202.6 1070.9h0M1204.0 1068.9h0M1205.4 1066.9h0M1207.0 1070.5h0M1208.4 1079.3h0M1210.0 1081.9h0M1212.5 1062.3h0M1215.3 1142.7h0M1216.9 1060.9h0M1218.3 1158.6h0M1219.9 1079.3h0M1221.3 1064.9h0M1222.9 1082.3h0M1224.3 1062.5h0M1230.3 1066.9h0M1231.3 1086.4h0M1234.5 1129.1h0M1235.9 1082.5h0M1237.5 1132.7h0M1238.9 1095.2h0M1239.9 1065.9h0M1241.5 1060.5h0M1243.3 1064.9h0M1244.8 1053.9h0M1246.2 1071.5h0M1247.8 1055.9h0M1249.2 1062.9h0M1250.8 1057.5h0M1252.2 1065.9h0M1253.8 1064.5h0M1255.4 1061.9h0M1256.8 1059.9h0M1258.4 1058.5h0M1261.6 1054.9h0M1263.6 1056.5h0M1265.6 1067.9h0M1267.6 1064.9h0M1269.4 1066.9h0M1271.0 1069.9h0M1272.6 1067.9h0M1274.0 1071.9h0M1275.6 1066.5h0M1277.3 1062.5h0M1278.9 1064.9h0M1280.5 1065.9h0M1282.5 1095.2h0M1283.9 1063.5h0M1285.5 1062.9h0M1287.3 1117.2h0M1288.5 1060.9h0M1289.9 1071.3h0M1291.5 1092.8h0M1295.9 1072.9h0M1297.3 1066.9h0M1298.9 1060.5h0M1300.3 1078.9h0M1301.9 1087.8h0M1303.3 1077.5h0M1304.9 1071.9h0M1306.3 1082.3h0M1307.5 1067.9h0M1308.9 1094.2h0M1310.4 1091.4h0M1311.8 1073.9h0M1313.2 1058.9h0M1314.8 1056.5h0M1316.4 1065.9h0M1317.8 1054.9h0M1319.8 1052.9h0M1322.4 1050.6h0M1324.2 1052.5h0M1325.8 1053.9h0M1327.4 1054.9h0M1328.8 1057.9h0M1330.2 1055.9h0M1331.4 1056.5h0M1332.8 1058.9h0M1334.4 1055.5h0M1335.8 1059.9h0M1337.4 1061.9h0M1338.8 1059.3h0M1340.2 1064.9h0M1341.8 1067.9h0M1343.2 1069.9h0M1344.7 1061.5h0M1346.3 1063.9h0M1347.7 1065.9h0M1349.3 1062.9h0M1350.7 1064.9h0M1351.3 1058.5h0M1352.3 1066.5h0M1353.7 1067.9h0M1355.7 1068.9h0M1358.1 1065.9h0M1359.7 1066.9h0M1361.3 1067.9h0M1363.1 1064.9h0M1364.7 1089.2h0M1366.1 1063.9h0M1367.7 1056.5h0M1369.3 1071.9h0M1370.7 1065.9h0M1372.1 1060.9h0M1373.7 1059.9h0M1375.3 1058.5h0M1376.7 1060.5h0M1378.0 1058.5h0M1379.6 1056.9h0M1381.0 1062.9h0M1382.2 1060.5h0M1383.6 1060.9h0M1385.2 1058.9h0M1386.6 1066.5h0M1388.0 1059.9h0M1389.6 1058.5h0M1391.0 1059.3h0M1392.6 1071.9h0M1395.6 1084.3h0M1397.2 1069.9h0M1398.2 1059.9h0M1399.6 1067.9h0M1401.0 1067.5h0M1402.6 1078.5h0M1404.2 1077.5h0M1408.6 1065.9h0M1410.5 1063.9h0M1411.9 1058.9h0M1413.5 1064.9h0M1415.1 1066.9h0M1417.1 1072.3h0M1418.5 1067.9h0M1420.1 1060.9h0M1421.9 1066.9h0M1423.5 1065.9h0M1425.5 1066.5h0M1427.1 1067.9h0M1428.9 1064.9h0M1430.5 1071.5h0M1431.9 1062.9h0M1433.5 1061.5h0M1435.1 1061.9h0M1436.9 1064.9h0M1438.5 1063.5h0M1439.5 1064.5h0M1440.9 1081.5h0M1442.5 1089.4h0M1445.0 1081.3h0M1446.4 1101.2h0M1449.4 1093.8h0M1450.8 1117.4h0M1452.4 1069.5h0M1453.8 1085.2h0M1455.4 1097.4h0M1460.0 1087.2h0M1461.4 1109.2h0M1462.8 1103.4h0M1467.0 1081.3h0M1469.0 1062.9h0M1470.4 1064.9h0M1471.8 1068.9h0M1473.4 1061.9h0M1474.8 1054.9h0M1476.0 1066.9h0M1477.3 1074.5h0M1478.7 1071.9h0M1480.3 1066.9h0M1481.7 1074.9h0M1483.3 1072.9h0M1485.9 1091.4h0M1487.3 1075.5h0M1488.9 1078.9h0M1490.7 1067.5h0M1492.3 1065.9h0M1493.9 1063.9h0M1495.3 1061.9h0M1496.9 1059.9h0M1499.3 1055.5h0M1500.7 1071.5h0M1502.3 1083.3h0M1503.7 1066.3h0M1505.3 1065.9h0M1506.9 1065.5h0M1508.7 1064.9h0M1509.7 1086.2h0M1511.2 1064.9h0M1514.2 1064.5h0M1515.8 1066.9h0M1517.2 1070.9h0M1521.6 1144.7h0M1522.8 1112.4h0M1524.2 1160.6h0M1525.6 1129.3h0M1533.2 1104.8h0M1534.6 1094.2h0M1536.2 1110.4h0M1537.6 1077.5h0M1539.2 1094.4h0M1540.2 1115.2h0M1541.8 1092.8h0M1542.8 1081.9h0M1544.7 1124.1h0M1546.1 1081.3h0M1547.1 1075.9h0M1548.5 1065.9h0M1550.1 1072.5h0M1551.5 1074.9h0M1553.1 1065.9h0M1554.5 1072.9h0M1556.1 1077.5h0M1557.7 1075.5h0M1559.5 1070.9h0M1561.1 1057.9h0M1562.5 1071.9h0M1564.1 1065.9h0M1565.5 1071.9h0M1567.1 1067.9h0M1568.5 1058.9h0M1570.1 1064.5h0M1571.5 1070.9h0M1573.1 1073.5h0M1574.7 1081.9h0M1576.5 1069.9h0M1578.0 1067.9h0M1579.6 1066.5h0M1581.4 1061.9h0M1583.0 1064.9h0M1584.6 1060.9h0M1587.0 1067.9h0M1588.4 1071.9h0M1590.0 1066.9h0M1591.6 1062.9h0M1593.6 1065.9h0M1596.0 1066.9h0M1597.6 1067.9h0M1600.4 1088.8h0M1603.0 1067.3h0M1604.6 1065.9h0M1606.0 1114.2h0M1607.4 1068.9h0M1609.0 1071.9h0M1610.3 1076.9h0M1611.9 1064.9h0M1613.5 1059.3h0M1615.3 1061.9h0M1616.3 1063.9h0M1617.9 1067.3h0M1619.3 1089.4h0M1620.5 1100.4h0M1622.3 1094.2h0M1623.5 1083.5h0M1624.9 1073.9h0M1626.5 1060.5h0M1628.9 1059.3h0M1630.9 1070.9h0M1632.3 1064.9h0M1633.9 1067.9h0M1635.9 1066.5h0M1637.3 1065.9h0M1638.5 1068.9h0M1639.9 1070.9h0M1641.9 1065.9h0M1643.8 1064.9h0M1645.8 1063.9h0M1647.4 1064.9h0M1649.8 1061.9h0M1651.8 1065.9h0M1653.8 1067.9h0M1655.8 1072.9h0M1657.4 1069.9h0M1659.4 1063.9h0M1660.2 1064.9h0M1661.8 1061.9h0M1664.2 1057.3h0M1665.8 1060.5h0M1667.4 1064.9h0M1669.2 1061.9h0M1673.4 1072.9h0M1682.4 1121.1h0M1683.8 1085.8h0M1686.4 1058.9h0M1688.2 1065.5h0M1689.3 1117.4h0M1691.1 1077.9h0M1692.3 1097.8h0M1693.7 1082.9h0M1695.7 1124.1h0M1696.7 1098.8h0M1698.1 1070.3h0M1699.7 1077.5h0M1701.3 1096.4h0M1702.7 1085.8h0M1704.1 1111.8h0M1705.7 1088.2h0M1707.3 1073.5h0M1708.7 1081.3h0M1711.1 1061.9h0M1713.1 1064.9h0M1714.7 1061.5h0M1716.3 1060.5h0M1717.7 1065.9h0M1719.3 1061.5h0M1720.7 1064.5h0M1722.3 1063.9h0M1724.0 1061.9h0M1725.6 1060.9h0M1727.2 1064.9h0M1728.6 1063.9h0M1730.2 1065.9h0M1732.0 1066.9h0M1733.6 1069.9h0M1735.0 1067.9h0M1736.6 1064.9h0M1738.0 1062.9h0M1739.6 1061.9h0M1741.2 1061.3h0M1743.0 1062.9h0M1745.0 1065.9h0M1746.6 1067.9h0M1748.0 1070.9h0M1749.2 1058.5h0M1751.0 1061.9h0M1752.6 1064.9h0M1754.0 1066.9h0M1755.2 1064.9h0M1757.1 1133.7h0M1758.1 1086.4h0M1759.5 1099.8h0M1762.9 1086.4h0M1764.1 1102.4h0M1765.5 1064.3h0M1767.5 1064.9h0M1771.9 1072.3h0M1773.5 1066.9h0M1775.1 1065.5h0M1776.5 1072.9h0M1777.5 1074.9h0M1779.1 1067.9h0M1781.1 1062.3h0M1783.1 1067.9h0M1784.5 1064.9h0M1786.5 1065.9h0M1787.9 1066.9h0M1789.4 1078.5h0M1791.0 1063.9h0M1792.4 1068.9h0M1794.0 1061.9h0M1796.0 1060.5h0M1797.8 1056.5h0M1799.8 1060.9h0M1801.8 1058.9h0M1803.8 1057.9h0M1806.0 1066.9h0M1807.4 1062.9h0M1808.8 1061.9h0M1810.4 1065.9h0M1812.0 1069.9h0M1813.4 1066.9h0M1815.0 1064.9h0M1816.4 1061.9h0M1818.4 1062.9h0M1820.0 1062.5h0M1821.4 1064.5h0M1822.9 1075.9h0M1828.3 1088.4h0M1829.9 1084.5h0M1831.9 1089.8h0M1832.7 1071.9h0M1834.3 1071.5h0M1835.7 1090.8h0M1837.3 1066.9h0M1838.7 1087.8h0M1841.7 1133.7h0M1842.9 1093.4h0M1848.9 1087.2h0M1850.3 1070.9h0M1851.9 1074.9h0M1853.3 1064.5h0M1854.9 1082.3h0M1856.2 1069.9h0M1857.6 1067.9h0M1859.2 1081.9h0M1860.6 1065.9h0M1862.2 1066.9h0M1863.8 1068.5h0M1865.2 1090.4h0M1866.6 1079.9h0M1867.8 1066.5h0M1869.2 1064.9h0M1870.8 1065.9h0M1872.2 1068.9h0M1873.8 1061.5h0M1875.2 1062.9h0M1876.6 1060.9h0M1878.2 1061.9h0M1879.6 1059.9h0M1881.2 1063.9h0M1882.6 1056.5h0M1884.2 1062.9h0M1885.8 1066.9h0M1887.2 1070.9h0M1888.8 1067.9h0M1890.1 1066.5h0M1891.7 1071.9h0M1893.1 1072.9h0M1894.5 1074.9h0M1896.1 1070.5h0M1897.5 1090.2h0M1900.7 1080.5h0M1902.5 1078.5h0M1904.5 1065.9h0M1906.1 1068.9h0M1916.5 1108.4h0M1917.7 1090.2h0M1919.5 1068.5h0M1920.7 1071.3h0M1926.4 1088.4h0M1929.4 1087.2h0M1931.0 1078.9h0M1932.4 1066.9h0M1934.0 1067.9h0M1937.0 1067.9h0M1938.6 1067.3h0M1941.6 1069.9h0M1943.0 1071.9h0M1944.0 1061.5h0M1945.6 1078.3h0M1947.0 1062.9h0M1948.6 1065.9h0M1950.0 1067.9h0M1951.6 1070.5h0M1953.0 1061.9h0M1954.6 1064.9h0M1956.3 1062.9h0M1957.9 1065.5h0M1959.9 1062.3h0M1961.9 1064.9h0M1962.9 1079.9h0M1964.9 1065.9h0M1967.5 1087.4h0M1969.3 1081.9h0M1973.9 1079.5h0M1978.3 1105.2h0"/>
<path class="tr" d="M70.2 1080.50L1977.4 1068.50"/>
<text class="tk" transform="translate(59.6 1176.7) scale(1 1.06)" text-anchor="end">2000</text>
<text class="tk" transform="translate(59.6 1115.8) scale(1 1.06)" text-anchor="end">2200</text>
<text class="tk" transform="translate(59.6 1054.8) scale(1 1.06)" text-anchor="end">2400</text>
<text class="ti" transform="translate(1023.9 1035.8) scale(1 1.03)" text-anchor="middle">Station 6</text>
</g>
<text class="tk" transform="translate(69.8 1203.5) scale(1 1.06)" text-anchor="middle">1995</text>
<text class="tk" transform="translate(451.2 1203.5) scale(1 1.06)" text-anchor="middle">2000</text>
<text class="tk" transform="translate(832.7 1203.5) scale(1 1.06)" text-anchor="middle">2005</text>
<text class="tk" transform="translate(1214.1 1203.5) scale(1 1.06)" text-anchor="middle">2010</text>
<text class="tk" transform="translate(1595.6 1203.5) scale(1 1.06)" text-anchor="middle">2015</text>
<text class="tk" transform="translate(1977.0 1203.5) scale(1 1.06)" text-anchor="middle">2020</text>
<text class="xl" x="1024.3" y="1241.6" text-anchor="middle">Time (Years)</text>
</svg></body></html>
